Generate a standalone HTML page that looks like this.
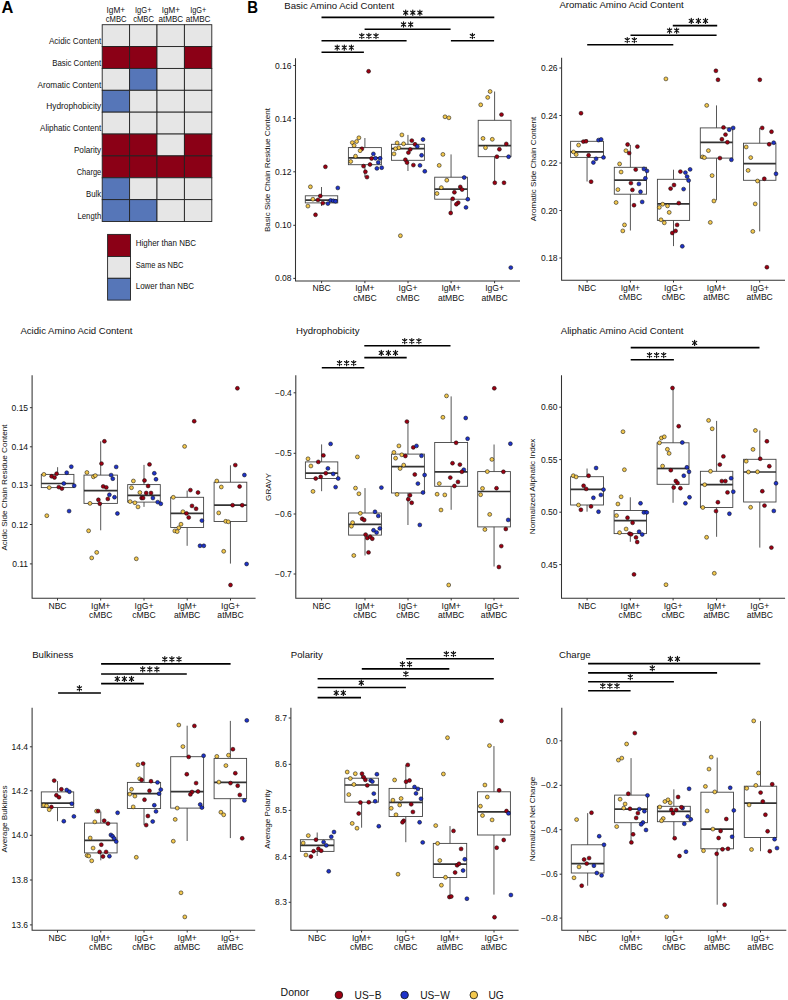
<!DOCTYPE html><html><head><meta charset="utf-8"><style>html,body{margin:0;padding:0;background:#fff;}svg{display:block}text{font-family:"Liberation Sans",sans-serif;fill:#111;stroke:none}</style></head><body>
<svg width="788" height="1000" viewBox="0 0 788 1000">
<rect x="0" y="0" width="788" height="1000" fill="#fff"/>
<text x="1.6" y="12.75" style="font-size:16.4px;font-weight:bold;fill:#000">A</text>
<text transform="translate(247.2,13) scale(0.9,1)" x="0" y="0" style="font-size:16.6px;font-weight:bold;fill:#000">B</text>
<rect x="102.2" y="24.7" width="27.4" height="21.87" fill="#e6e6e6" stroke="#222" stroke-width="0.9"/>
<rect x="129.6" y="24.7" width="27.4" height="21.87" fill="#e6e6e6" stroke="#222" stroke-width="0.9"/>
<rect x="157" y="24.7" width="27.4" height="21.87" fill="#e6e6e6" stroke="#222" stroke-width="0.9"/>
<rect x="184.4" y="24.7" width="27.4" height="21.87" fill="#e6e6e6" stroke="#222" stroke-width="0.9"/>
<rect x="102.2" y="46.57" width="27.4" height="21.87" fill="#8b0016" stroke="#222" stroke-width="0.9"/>
<rect x="129.6" y="46.57" width="27.4" height="21.87" fill="#8b0016" stroke="#222" stroke-width="0.9"/>
<rect x="157" y="46.57" width="27.4" height="21.87" fill="#e6e6e6" stroke="#222" stroke-width="0.9"/>
<rect x="184.4" y="46.57" width="27.4" height="21.87" fill="#8b0016" stroke="#222" stroke-width="0.9"/>
<rect x="102.2" y="68.43" width="27.4" height="21.87" fill="#e6e6e6" stroke="#222" stroke-width="0.9"/>
<rect x="129.6" y="68.43" width="27.4" height="21.87" fill="#5676b8" stroke="#222" stroke-width="0.9"/>
<rect x="157" y="68.43" width="27.4" height="21.87" fill="#e6e6e6" stroke="#222" stroke-width="0.9"/>
<rect x="184.4" y="68.43" width="27.4" height="21.87" fill="#e6e6e6" stroke="#222" stroke-width="0.9"/>
<rect x="102.2" y="90.3" width="27.4" height="21.87" fill="#5676b8" stroke="#222" stroke-width="0.9"/>
<rect x="129.6" y="90.3" width="27.4" height="21.87" fill="#e6e6e6" stroke="#222" stroke-width="0.9"/>
<rect x="157" y="90.3" width="27.4" height="21.87" fill="#e6e6e6" stroke="#222" stroke-width="0.9"/>
<rect x="184.4" y="90.3" width="27.4" height="21.87" fill="#e6e6e6" stroke="#222" stroke-width="0.9"/>
<rect x="102.2" y="112.17" width="27.4" height="21.87" fill="#e6e6e6" stroke="#222" stroke-width="0.9"/>
<rect x="129.6" y="112.17" width="27.4" height="21.87" fill="#e6e6e6" stroke="#222" stroke-width="0.9"/>
<rect x="157" y="112.17" width="27.4" height="21.87" fill="#e6e6e6" stroke="#222" stroke-width="0.9"/>
<rect x="184.4" y="112.17" width="27.4" height="21.87" fill="#e6e6e6" stroke="#222" stroke-width="0.9"/>
<rect x="102.2" y="134.03" width="27.4" height="21.87" fill="#8b0016" stroke="#222" stroke-width="0.9"/>
<rect x="129.6" y="134.03" width="27.4" height="21.87" fill="#8b0016" stroke="#222" stroke-width="0.9"/>
<rect x="157" y="134.03" width="27.4" height="21.87" fill="#e6e6e6" stroke="#222" stroke-width="0.9"/>
<rect x="184.4" y="134.03" width="27.4" height="21.87" fill="#8b0016" stroke="#222" stroke-width="0.9"/>
<rect x="102.2" y="155.9" width="27.4" height="21.87" fill="#8b0016" stroke="#222" stroke-width="0.9"/>
<rect x="129.6" y="155.9" width="27.4" height="21.87" fill="#8b0016" stroke="#222" stroke-width="0.9"/>
<rect x="157" y="155.9" width="27.4" height="21.87" fill="#8b0016" stroke="#222" stroke-width="0.9"/>
<rect x="184.4" y="155.9" width="27.4" height="21.87" fill="#8b0016" stroke="#222" stroke-width="0.9"/>
<rect x="102.2" y="177.77" width="27.4" height="21.87" fill="#5676b8" stroke="#222" stroke-width="0.9"/>
<rect x="129.6" y="177.77" width="27.4" height="21.87" fill="#e6e6e6" stroke="#222" stroke-width="0.9"/>
<rect x="157" y="177.77" width="27.4" height="21.87" fill="#e6e6e6" stroke="#222" stroke-width="0.9"/>
<rect x="184.4" y="177.77" width="27.4" height="21.87" fill="#e6e6e6" stroke="#222" stroke-width="0.9"/>
<rect x="102.2" y="199.63" width="27.4" height="21.87" fill="#5676b8" stroke="#222" stroke-width="0.9"/>
<rect x="129.6" y="199.63" width="27.4" height="21.87" fill="#5676b8" stroke="#222" stroke-width="0.9"/>
<rect x="157" y="199.63" width="27.4" height="21.87" fill="#e6e6e6" stroke="#222" stroke-width="0.9"/>
<rect x="184.4" y="199.63" width="27.4" height="21.87" fill="#e6e6e6" stroke="#222" stroke-width="0.9"/>
<text x="101.2" y="44.4" text-anchor="end" textLength="52.3" lengthAdjust="spacingAndGlyphs" style="font-size:8.8px;fill:#111">Acidic Content</text>
<text x="101.2" y="65.6" text-anchor="end" textLength="49" lengthAdjust="spacingAndGlyphs" style="font-size:8.8px;fill:#111">Basic Content</text>
<text x="101.2" y="87.7" text-anchor="end" textLength="63.7" lengthAdjust="spacingAndGlyphs" style="font-size:8.8px;fill:#111">Aromatic Content</text>
<text x="101.2" y="109.3" text-anchor="end" textLength="54.9" lengthAdjust="spacingAndGlyphs" style="font-size:8.8px;fill:#111">Hydrophobicity</text>
<text x="101.2" y="131.2" text-anchor="end" textLength="61.2" lengthAdjust="spacingAndGlyphs" style="font-size:8.8px;fill:#111">Aliphatic Content</text>
<text x="101.2" y="153.2" text-anchor="end" textLength="27.3" lengthAdjust="spacingAndGlyphs" style="font-size:8.8px;fill:#111">Polarity</text>
<text x="101.2" y="175" text-anchor="end" textLength="24.5" lengthAdjust="spacingAndGlyphs" style="font-size:8.8px;fill:#111">Charge</text>
<text x="101.2" y="197" text-anchor="end" textLength="15.2" lengthAdjust="spacingAndGlyphs" style="font-size:8.8px;fill:#111">Bulk</text>
<text x="101.2" y="219" text-anchor="end" textLength="23.7" lengthAdjust="spacingAndGlyphs" style="font-size:8.8px;fill:#111">Length</text>
<text x="106.5" y="12.9" textLength="18.6" lengthAdjust="spacingAndGlyphs" style="font-size:8.8px;fill:#111">IgM+</text>
<text x="105.7" y="22.3" textLength="20.9" lengthAdjust="spacingAndGlyphs" style="font-size:8.8px;fill:#111">cMBC</text>
<text x="135" y="12.9" textLength="16.6" lengthAdjust="spacingAndGlyphs" style="font-size:8.8px;fill:#111">IgG+</text>
<text x="133.2" y="22.3" textLength="20.8" lengthAdjust="spacingAndGlyphs" style="font-size:8.8px;fill:#111">cMBC</text>
<text x="161.8" y="12.9" textLength="18.2" lengthAdjust="spacingAndGlyphs" style="font-size:8.8px;fill:#111">IgM+</text>
<text x="158.5" y="22.3" textLength="24.7" lengthAdjust="spacingAndGlyphs" style="font-size:8.8px;fill:#111">atMBC</text>
<text x="190.2" y="12.9" textLength="16.1" lengthAdjust="spacingAndGlyphs" style="font-size:8.8px;fill:#111">IgG+</text>
<text x="185.7" y="22.3" textLength="24.8" lengthAdjust="spacingAndGlyphs" style="font-size:8.8px;fill:#111">atMBC</text>
<rect x="107.6" y="234.4" width="22.9" height="22.1" fill="#8b0016" stroke="#222" stroke-width="0.9"/>
<rect x="107.6" y="256.5" width="22.9" height="21.8" fill="#e6e6e6" stroke="#222" stroke-width="0.9"/>
<rect x="107.6" y="278.3" width="22.9" height="21.8" fill="#5676b8" stroke="#222" stroke-width="0.9"/>
<text x="135.8" y="245.6" textLength="60.2" lengthAdjust="spacingAndGlyphs" style="font-size:8.8px;fill:#111">Higher than NBC</text>
<text x="135.8" y="267.6" textLength="47.5" lengthAdjust="spacingAndGlyphs" style="font-size:8.8px;fill:#111">Same as NBC</text>
<text x="135.8" y="289.3" textLength="58.2" lengthAdjust="spacingAndGlyphs" style="font-size:8.8px;fill:#111">Lower than NBC</text>
<text x="284.3" y="8.8" style="font-size:9.6px;fill:#111">Basic Amino Acid Content</text>
<path d="M295.5 58.2V281H520" fill="none" stroke="#333" stroke-width="1.05"/>
<path d="M293.3 278.4H295.5" stroke="#333" stroke-width="1"/>
<text x="291.5" y="281.45" text-anchor="end" style="font-size:8.5px;fill:#111">0.08</text>
<path d="M293.3 225.3H295.5" stroke="#333" stroke-width="1"/>
<text x="291.5" y="228.35" text-anchor="end" style="font-size:8.5px;fill:#111">0.10</text>
<path d="M293.3 171.8H295.5" stroke="#333" stroke-width="1"/>
<text x="291.5" y="174.85" text-anchor="end" style="font-size:8.5px;fill:#111">0.12</text>
<path d="M293.3 118.5H295.5" stroke="#333" stroke-width="1"/>
<text x="291.5" y="121.55" text-anchor="end" style="font-size:8.5px;fill:#111">0.14</text>
<path d="M293.3 65.5H295.5" stroke="#333" stroke-width="1"/>
<text x="291.5" y="68.55" text-anchor="end" style="font-size:8.5px;fill:#111">0.16</text>
<path d="M321.6 281V283.2" stroke="#333" stroke-width="1"/>
<text x="321.6" y="291.3" text-anchor="middle" style="font-size:8.6px;fill:#111">NBC</text>
<path d="M364.9 281V283.2" stroke="#333" stroke-width="1"/>
<text x="364.9" y="291.3" text-anchor="middle" style="font-size:8.6px;fill:#111">IgM+</text>
<text x="364.9" y="300.8" text-anchor="middle" style="font-size:8.6px;fill:#111">cMBC</text>
<path d="M408 281V283.2" stroke="#333" stroke-width="1"/>
<text x="408" y="291.3" text-anchor="middle" style="font-size:8.6px;fill:#111">IgG+</text>
<text x="408" y="300.8" text-anchor="middle" style="font-size:8.6px;fill:#111">cMBC</text>
<path d="M451.1 281V283.2" stroke="#333" stroke-width="1"/>
<text x="451.1" y="291.3" text-anchor="middle" style="font-size:8.6px;fill:#111">IgM+</text>
<text x="451.1" y="300.8" text-anchor="middle" style="font-size:8.6px;fill:#111">atMBC</text>
<path d="M494.6 281V283.2" stroke="#333" stroke-width="1"/>
<text x="494.6" y="291.3" text-anchor="middle" style="font-size:8.6px;fill:#111">IgG+</text>
<text x="494.6" y="300.8" text-anchor="middle" style="font-size:8.6px;fill:#111">atMBC</text>
<text x="269.8" y="170" text-anchor="middle" transform="rotate(-90 269.8 170)" style="font-size:8.1px;fill:#111">Basic Side Chain Residue Content</text>
<path d="M321.5 187V195.8M321.5 202.9V206" stroke="#444" stroke-width="0.9"/>
<rect x="305.3" y="195.8" width="32.4" height="7.1" fill="none" stroke="#444" stroke-width="0.9"/>
<path d="M305.3 200.2H337.7" stroke="#333" stroke-width="1.7"/>
<path d="M364.9 138V147.6M364.9 164.7V177.1" stroke="#444" stroke-width="0.9"/>
<rect x="348.4" y="147.6" width="33" height="17.1" fill="none" stroke="#444" stroke-width="0.9"/>
<path d="M348.4 157.9H381.4" stroke="#333" stroke-width="1.7"/>
<path d="M407.95 134.9V144.3M407.95 160.3V171" stroke="#444" stroke-width="0.9"/>
<rect x="391.5" y="144.3" width="32.9" height="16" fill="none" stroke="#444" stroke-width="0.9"/>
<path d="M391.5 148.7H424.4" stroke="#333" stroke-width="1.7"/>
<path d="M451.05 154.4V177.2M451.05 199.2V213" stroke="#444" stroke-width="0.9"/>
<rect x="434.7" y="177.2" width="32.7" height="22" fill="none" stroke="#444" stroke-width="0.9"/>
<path d="M434.7 189.2H467.4" stroke="#333" stroke-width="1.7"/>
<path d="M494.6 91.5V120.3M494.6 156.7V182.8" stroke="#444" stroke-width="0.9"/>
<rect x="478.2" y="120.3" width="32.8" height="36.4" fill="none" stroke="#444" stroke-width="0.9"/>
<path d="M478.2 145.7H511" stroke="#333" stroke-width="1.7"/>
<circle cx="310.4" cy="186.8" r="1.95" fill="#f3c84e" stroke="#111" stroke-width="0.55"/>
<circle cx="325.4" cy="166.8" r="1.95" fill="#9c0012" stroke="#111" stroke-width="0.55"/>
<circle cx="337.8" cy="187.9" r="1.95" fill="#1f33c8" stroke="#111" stroke-width="0.55"/>
<circle cx="320.3" cy="196" r="1.95" fill="#9c0012" stroke="#111" stroke-width="0.55"/>
<circle cx="312.9" cy="199.2" r="1.95" fill="#f3c84e" stroke="#111" stroke-width="0.55"/>
<circle cx="318" cy="199.9" r="1.95" fill="#9c0012" stroke="#111" stroke-width="0.55"/>
<circle cx="322.8" cy="203.1" r="1.95" fill="#9c0012" stroke="#111" stroke-width="0.55"/>
<circle cx="327.9" cy="203.6" r="1.95" fill="#1f33c8" stroke="#111" stroke-width="0.55"/>
<circle cx="330.6" cy="200.4" r="1.95" fill="#1f33c8" stroke="#111" stroke-width="0.55"/>
<circle cx="333.2" cy="200.8" r="1.95" fill="#1f33c8" stroke="#111" stroke-width="0.55"/>
<circle cx="335.5" cy="201.3" r="1.95" fill="#1f33c8" stroke="#111" stroke-width="0.55"/>
<circle cx="307.9" cy="206.1" r="1.95" fill="#f3c84e" stroke="#111" stroke-width="0.55"/>
<circle cx="315.5" cy="214.8" r="1.95" fill="#9c0012" stroke="#111" stroke-width="0.55"/>
<circle cx="368.6" cy="71.3" r="1.95" fill="#9c0012" stroke="#111" stroke-width="0.55"/>
<circle cx="358.9" cy="137.8" r="1.95" fill="#f3c84e" stroke="#111" stroke-width="0.55"/>
<circle cx="356.6" cy="141.5" r="1.95" fill="#f3c84e" stroke="#111" stroke-width="0.55"/>
<circle cx="352.3" cy="142.6" r="1.95" fill="#f3c84e" stroke="#111" stroke-width="0.55"/>
<circle cx="354.1" cy="145.6" r="1.95" fill="#f3c84e" stroke="#111" stroke-width="0.55"/>
<circle cx="361.9" cy="148.8" r="1.95" fill="#9c0012" stroke="#111" stroke-width="0.55"/>
<circle cx="360.1" cy="150.7" r="1.95" fill="#f3c84e" stroke="#111" stroke-width="0.55"/>
<circle cx="355.5" cy="156.2" r="1.95" fill="#f3c84e" stroke="#111" stroke-width="0.55"/>
<circle cx="350.7" cy="161.5" r="1.95" fill="#f3c84e" stroke="#111" stroke-width="0.55"/>
<circle cx="373.4" cy="153.9" r="1.95" fill="#1f33c8" stroke="#111" stroke-width="0.55"/>
<circle cx="371.6" cy="158.5" r="1.95" fill="#9c0012" stroke="#111" stroke-width="0.55"/>
<circle cx="375.5" cy="158.3" r="1.95" fill="#1f33c8" stroke="#111" stroke-width="0.55"/>
<circle cx="380.1" cy="158.3" r="1.95" fill="#1f33c8" stroke="#111" stroke-width="0.55"/>
<circle cx="378.3" cy="162.4" r="1.95" fill="#1f33c8" stroke="#111" stroke-width="0.55"/>
<circle cx="370" cy="164.5" r="1.95" fill="#9c0012" stroke="#111" stroke-width="0.55"/>
<circle cx="363.5" cy="166.1" r="1.95" fill="#9c0012" stroke="#111" stroke-width="0.55"/>
<circle cx="376.9" cy="168.4" r="1.95" fill="#1f33c8" stroke="#111" stroke-width="0.55"/>
<circle cx="381.7" cy="167.7" r="1.95" fill="#1f33c8" stroke="#111" stroke-width="0.55"/>
<circle cx="365.4" cy="171.8" r="1.95" fill="#9c0012" stroke="#111" stroke-width="0.55"/>
<circle cx="367" cy="177.1" r="1.95" fill="#9c0012" stroke="#111" stroke-width="0.55"/>
<circle cx="401.9" cy="134.9" r="1.95" fill="#f3c84e" stroke="#111" stroke-width="0.55"/>
<circle cx="397.1" cy="142.9" r="1.95" fill="#f3c84e" stroke="#111" stroke-width="0.55"/>
<circle cx="403.6" cy="143.8" r="1.95" fill="#f3c84e" stroke="#111" stroke-width="0.55"/>
<circle cx="398.8" cy="147.7" r="1.95" fill="#f3c84e" stroke="#111" stroke-width="0.55"/>
<circle cx="395.5" cy="148.7" r="1.95" fill="#f3c84e" stroke="#111" stroke-width="0.55"/>
<circle cx="394" cy="153.9" r="1.95" fill="#f3c84e" stroke="#111" stroke-width="0.55"/>
<circle cx="411.8" cy="140.6" r="1.95" fill="#9c0012" stroke="#111" stroke-width="0.55"/>
<circle cx="415" cy="144.3" r="1.95" fill="#9c0012" stroke="#111" stroke-width="0.55"/>
<circle cx="423" cy="139.5" r="1.95" fill="#1f33c8" stroke="#111" stroke-width="0.55"/>
<circle cx="417.3" cy="146.4" r="1.95" fill="#1f33c8" stroke="#111" stroke-width="0.55"/>
<circle cx="410.2" cy="149.4" r="1.95" fill="#9c0012" stroke="#111" stroke-width="0.55"/>
<circle cx="408.4" cy="152.6" r="1.95" fill="#9c0012" stroke="#111" stroke-width="0.55"/>
<circle cx="421.6" cy="155.3" r="1.95" fill="#1f33c8" stroke="#111" stroke-width="0.55"/>
<circle cx="405.4" cy="159.7" r="1.95" fill="#9c0012" stroke="#111" stroke-width="0.55"/>
<circle cx="407" cy="162.6" r="1.95" fill="#9c0012" stroke="#111" stroke-width="0.55"/>
<circle cx="413.4" cy="165.1" r="1.95" fill="#9c0012" stroke="#111" stroke-width="0.55"/>
<circle cx="420" cy="165.4" r="1.95" fill="#1f33c8" stroke="#111" stroke-width="0.55"/>
<circle cx="424.8" cy="171.3" r="1.95" fill="#1f33c8" stroke="#111" stroke-width="0.55"/>
<circle cx="400.4" cy="235.7" r="1.95" fill="#f3c84e" stroke="#111" stroke-width="0.55"/>
<circle cx="445" cy="116.8" r="1.95" fill="#f3c84e" stroke="#111" stroke-width="0.55"/>
<circle cx="448.9" cy="117.8" r="1.95" fill="#f3c84e" stroke="#111" stroke-width="0.55"/>
<circle cx="442.9" cy="154.4" r="1.95" fill="#f3c84e" stroke="#111" stroke-width="0.55"/>
<circle cx="439.2" cy="165.4" r="1.95" fill="#f3c84e" stroke="#111" stroke-width="0.55"/>
<circle cx="446.8" cy="180.2" r="1.95" fill="#f3c84e" stroke="#111" stroke-width="0.55"/>
<circle cx="464.2" cy="177.5" r="1.95" fill="#1f33c8" stroke="#111" stroke-width="0.55"/>
<circle cx="441.3" cy="187.6" r="1.95" fill="#f3c84e" stroke="#111" stroke-width="0.55"/>
<circle cx="460.3" cy="186.9" r="1.95" fill="#9c0012" stroke="#111" stroke-width="0.55"/>
<circle cx="462.1" cy="189.6" r="1.95" fill="#9c0012" stroke="#111" stroke-width="0.55"/>
<circle cx="454.4" cy="192.3" r="1.95" fill="#9c0012" stroke="#111" stroke-width="0.55"/>
<circle cx="437" cy="193.5" r="1.95" fill="#f3c84e" stroke="#111" stroke-width="0.55"/>
<circle cx="452.7" cy="198.8" r="1.95" fill="#9c0012" stroke="#111" stroke-width="0.55"/>
<circle cx="467.8" cy="199.2" r="1.95" fill="#1f33c8" stroke="#111" stroke-width="0.55"/>
<circle cx="458.2" cy="202.7" r="1.95" fill="#9c0012" stroke="#111" stroke-width="0.55"/>
<circle cx="456.4" cy="204.2" r="1.95" fill="#9c0012" stroke="#111" stroke-width="0.55"/>
<circle cx="466" cy="207.4" r="1.95" fill="#1f33c8" stroke="#111" stroke-width="0.55"/>
<circle cx="450.7" cy="213" r="1.95" fill="#9c0012" stroke="#111" stroke-width="0.55"/>
<circle cx="501.5" cy="114.6" r="1.95" fill="#9c0012" stroke="#111" stroke-width="0.55"/>
<circle cx="483" cy="138.4" r="1.95" fill="#f3c84e" stroke="#111" stroke-width="0.55"/>
<circle cx="492.3" cy="139.3" r="1.95" fill="#f3c84e" stroke="#111" stroke-width="0.55"/>
<circle cx="506.3" cy="143.9" r="1.95" fill="#9c0012" stroke="#111" stroke-width="0.55"/>
<circle cx="485.5" cy="147.7" r="1.95" fill="#f3c84e" stroke="#111" stroke-width="0.55"/>
<circle cx="499.4" cy="149.3" r="1.95" fill="#9c0012" stroke="#111" stroke-width="0.55"/>
<circle cx="496.9" cy="156.7" r="1.95" fill="#9c0012" stroke="#111" stroke-width="0.55"/>
<circle cx="508.6" cy="156.7" r="1.95" fill="#1f33c8" stroke="#111" stroke-width="0.55"/>
<circle cx="494.8" cy="182.8" r="1.95" fill="#9c0012" stroke="#111" stroke-width="0.55"/>
<circle cx="504" cy="182.8" r="1.95" fill="#9c0012" stroke="#111" stroke-width="0.55"/>
<circle cx="490.1" cy="91.5" r="1.95" fill="#f3c84e" stroke="#111" stroke-width="0.55"/>
<circle cx="487.7" cy="97.4" r="1.95" fill="#f3c84e" stroke="#111" stroke-width="0.55"/>
<circle cx="480.7" cy="104.8" r="1.95" fill="#f3c84e" stroke="#111" stroke-width="0.55"/>
<circle cx="510.8" cy="267.6" r="1.95" fill="#1f33c8" stroke="#111" stroke-width="0.55"/>
<path d="M321.5 52.3H363.9" stroke="#000" stroke-width="1.6"/>
<path d="M337.2 45L337.2 50.2M335.1 46.07L339.3 49.13M339.3 46.07L335.1 49.13M344.3 45L344.3 50.2M342.2 46.07L346.4 49.13M346.4 46.07L342.2 49.13M351.4 45L351.4 50.2M349.3 46.07L353.5 49.13M353.5 46.07L349.3 49.13" stroke="#111" stroke-width="1.2" stroke-linecap="round"/>
<path d="M321.5 40.7H406.6" stroke="#000" stroke-width="1.6"/>
<path d="M361.8 33.4L361.8 38.6M359.7 34.47L363.9 37.53M363.9 34.47L359.7 37.53M368.9 33.4L368.9 38.6M366.8 34.47L371 37.53M371 34.47L366.8 37.53M376 33.4L376 38.6M373.9 34.47L378.1 37.53M378.1 34.47L373.9 37.53" stroke="#111" stroke-width="1.2" stroke-linecap="round"/>
<path d="M450.9 40.7H494.1" stroke="#000" stroke-width="1.6"/>
<path d="M472.4 33.4L472.4 38.6M470.3 34.47L474.5 37.53M474.5 34.47L470.3 37.53" stroke="#111" stroke-width="1.2" stroke-linecap="round"/>
<path d="M364.6 29.2H450.6" stroke="#000" stroke-width="1.6"/>
<path d="M403.55 21.9L403.55 27.1M401.45 22.97L405.65 26.03M405.65 22.97L401.45 26.03M410.65 21.9L410.65 27.1M408.55 22.97L412.75 26.03M412.75 22.97L408.55 26.03" stroke="#111" stroke-width="1.2" stroke-linecap="round"/>
<path d="M321.5 17.4H494.3" stroke="#000" stroke-width="1.6"/>
<path d="M405.7 10.1L405.7 15.3M403.6 11.17L407.8 14.23M407.8 11.17L403.6 14.23M412.8 10.1L412.8 15.3M410.7 11.17L414.9 14.23M414.9 11.17L410.7 14.23M419.9 10.1L419.9 15.3M417.8 11.17L422 14.23M422 11.17L417.8 14.23" stroke="#111" stroke-width="1.2" stroke-linecap="round"/>
<text x="559.4" y="8.4" style="font-size:9.6px;fill:#111">Aromatic Amino Acid Content</text>
<path d="M561.6 57.7V280.3H785" fill="none" stroke="#333" stroke-width="1.05"/>
<path d="M559.4 258H561.6" stroke="#333" stroke-width="1"/>
<text x="557.6" y="261.05" text-anchor="end" style="font-size:8.5px;fill:#111">0.18</text>
<path d="M559.4 210.5H561.6" stroke="#333" stroke-width="1"/>
<text x="557.6" y="213.55" text-anchor="end" style="font-size:8.5px;fill:#111">0.20</text>
<path d="M559.4 163H561.6" stroke="#333" stroke-width="1"/>
<text x="557.6" y="166.05" text-anchor="end" style="font-size:8.5px;fill:#111">0.22</text>
<path d="M559.4 115.5H561.6" stroke="#333" stroke-width="1"/>
<text x="557.6" y="118.55" text-anchor="end" style="font-size:8.5px;fill:#111">0.24</text>
<path d="M559.4 68H561.6" stroke="#333" stroke-width="1"/>
<text x="557.6" y="71.05" text-anchor="end" style="font-size:8.5px;fill:#111">0.26</text>
<path d="M587.1 280.3V282.5" stroke="#333" stroke-width="1"/>
<text x="587.1" y="290.6" text-anchor="middle" style="font-size:8.6px;fill:#111">NBC</text>
<path d="M630.4 280.3V282.5" stroke="#333" stroke-width="1"/>
<text x="630.4" y="290.6" text-anchor="middle" style="font-size:8.6px;fill:#111">IgM+</text>
<text x="630.4" y="300.1" text-anchor="middle" style="font-size:8.6px;fill:#111">cMBC</text>
<path d="M673.5 280.3V282.5" stroke="#333" stroke-width="1"/>
<text x="673.5" y="290.6" text-anchor="middle" style="font-size:8.6px;fill:#111">IgG+</text>
<text x="673.5" y="300.1" text-anchor="middle" style="font-size:8.6px;fill:#111">cMBC</text>
<path d="M716.5 280.3V282.5" stroke="#333" stroke-width="1"/>
<text x="716.5" y="290.6" text-anchor="middle" style="font-size:8.6px;fill:#111">IgM+</text>
<text x="716.5" y="300.1" text-anchor="middle" style="font-size:8.6px;fill:#111">atMBC</text>
<path d="M759.7 280.3V282.5" stroke="#333" stroke-width="1"/>
<text x="759.7" y="290.6" text-anchor="middle" style="font-size:8.6px;fill:#111">IgG+</text>
<text x="759.7" y="300.1" text-anchor="middle" style="font-size:8.6px;fill:#111">atMBC</text>
<text x="535.5" y="169" text-anchor="middle" transform="rotate(-90 535.5 169)" style="font-size:8.1px;fill:#111">Aromatic Side Chain Content</text>
<path d="M587.05 139.4V141.3M587.05 157.4V181.5" stroke="#444" stroke-width="0.9"/>
<rect x="570.6" y="141.3" width="32.9" height="16.1" fill="none" stroke="#444" stroke-width="0.9"/>
<path d="M570.6 151.9H603.5" stroke="#333" stroke-width="1.7"/>
<path d="M630.4 144.9V167.3M630.4 194.2V230.5" stroke="#444" stroke-width="0.9"/>
<rect x="614.3" y="167.3" width="32.2" height="26.9" fill="none" stroke="#444" stroke-width="0.9"/>
<path d="M614.3 180.2H646.5" stroke="#333" stroke-width="1.7"/>
<path d="M673.5 169.7V179.3M673.5 220.4V246.1" stroke="#444" stroke-width="0.9"/>
<rect x="657.4" y="179.3" width="32.2" height="41.1" fill="none" stroke="#444" stroke-width="0.9"/>
<path d="M657.4 203.8H689.6" stroke="#333" stroke-width="1.7"/>
<path d="M716.5 105.4V127.9M716.5 158.1V200.3" stroke="#444" stroke-width="0.9"/>
<rect x="700.3" y="127.9" width="32.4" height="30.2" fill="none" stroke="#444" stroke-width="0.9"/>
<path d="M700.3 142.3H732.7" stroke="#333" stroke-width="1.7"/>
<path d="M759.7 127.9V143.2M759.7 180.3V231.4" stroke="#444" stroke-width="0.9"/>
<rect x="743.5" y="143.2" width="32.4" height="37.1" fill="none" stroke="#444" stroke-width="0.9"/>
<path d="M743.5 163.7H775.9" stroke="#333" stroke-width="1.7"/>
<circle cx="581" cy="113.2" r="1.95" fill="#9c0012" stroke="#111" stroke-width="0.55"/>
<circle cx="583.4" cy="141.6" r="1.95" fill="#9c0012" stroke="#111" stroke-width="0.55"/>
<circle cx="586" cy="141.3" r="1.95" fill="#9c0012" stroke="#111" stroke-width="0.55"/>
<circle cx="598.5" cy="140.1" r="1.95" fill="#1f33c8" stroke="#111" stroke-width="0.55"/>
<circle cx="601.1" cy="139.4" r="1.95" fill="#1f33c8" stroke="#111" stroke-width="0.55"/>
<circle cx="578.6" cy="145.1" r="1.95" fill="#f3c84e" stroke="#111" stroke-width="0.55"/>
<circle cx="573.5" cy="151.9" r="1.95" fill="#f3c84e" stroke="#111" stroke-width="0.55"/>
<circle cx="576.2" cy="154.5" r="1.95" fill="#f3c84e" stroke="#111" stroke-width="0.55"/>
<circle cx="588.6" cy="155.3" r="1.95" fill="#9c0012" stroke="#111" stroke-width="0.55"/>
<circle cx="603.5" cy="157.4" r="1.95" fill="#1f33c8" stroke="#111" stroke-width="0.55"/>
<circle cx="596.1" cy="158.8" r="1.95" fill="#1f33c8" stroke="#111" stroke-width="0.55"/>
<circle cx="593.4" cy="162.5" r="1.95" fill="#1f33c8" stroke="#111" stroke-width="0.55"/>
<circle cx="591.1" cy="181.7" r="1.95" fill="#9c0012" stroke="#111" stroke-width="0.55"/>
<circle cx="627.6" cy="144.5" r="1.95" fill="#9c0012" stroke="#111" stroke-width="0.55"/>
<circle cx="637.4" cy="146.6" r="1.95" fill="#9c0012" stroke="#111" stroke-width="0.55"/>
<circle cx="625.9" cy="150.7" r="1.95" fill="#f3c84e" stroke="#111" stroke-width="0.55"/>
<circle cx="629.2" cy="153.1" r="1.95" fill="#9c0012" stroke="#111" stroke-width="0.55"/>
<circle cx="619.6" cy="163.9" r="1.95" fill="#f3c84e" stroke="#111" stroke-width="0.55"/>
<circle cx="621.1" cy="172" r="1.95" fill="#f3c84e" stroke="#111" stroke-width="0.55"/>
<circle cx="635.7" cy="169.6" r="1.95" fill="#9c0012" stroke="#111" stroke-width="0.55"/>
<circle cx="643.9" cy="168.9" r="1.95" fill="#1f33c8" stroke="#111" stroke-width="0.55"/>
<circle cx="647" cy="170.9" r="1.95" fill="#1f33c8" stroke="#111" stroke-width="0.55"/>
<circle cx="645.4" cy="178.3" r="1.95" fill="#1f33c8" stroke="#111" stroke-width="0.55"/>
<circle cx="630.9" cy="183.1" r="1.95" fill="#9c0012" stroke="#111" stroke-width="0.55"/>
<circle cx="638.9" cy="183.9" r="1.95" fill="#1f33c8" stroke="#111" stroke-width="0.55"/>
<circle cx="617.9" cy="189.6" r="1.95" fill="#f3c84e" stroke="#111" stroke-width="0.55"/>
<circle cx="632.4" cy="189.9" r="1.95" fill="#9c0012" stroke="#111" stroke-width="0.55"/>
<circle cx="640.5" cy="191.8" r="1.95" fill="#1f33c8" stroke="#111" stroke-width="0.55"/>
<circle cx="616.1" cy="202.5" r="1.95" fill="#f3c84e" stroke="#111" stroke-width="0.55"/>
<circle cx="642.2" cy="201.9" r="1.95" fill="#1f33c8" stroke="#111" stroke-width="0.55"/>
<circle cx="634" cy="205.2" r="1.95" fill="#9c0012" stroke="#111" stroke-width="0.55"/>
<circle cx="624.5" cy="224.9" r="1.95" fill="#f3c84e" stroke="#111" stroke-width="0.55"/>
<circle cx="622.8" cy="230.9" r="1.95" fill="#f3c84e" stroke="#111" stroke-width="0.55"/>
<circle cx="680.4" cy="171.6" r="1.95" fill="#9c0012" stroke="#111" stroke-width="0.55"/>
<circle cx="685.4" cy="172.6" r="1.95" fill="#1f33c8" stroke="#111" stroke-width="0.55"/>
<circle cx="690.1" cy="169.4" r="1.95" fill="#1f33c8" stroke="#111" stroke-width="0.55"/>
<circle cx="687.1" cy="176.6" r="1.95" fill="#1f33c8" stroke="#111" stroke-width="0.55"/>
<circle cx="688.6" cy="180.5" r="1.95" fill="#1f33c8" stroke="#111" stroke-width="0.55"/>
<circle cx="674" cy="185" r="1.95" fill="#9c0012" stroke="#111" stroke-width="0.55"/>
<circle cx="670.6" cy="188.6" r="1.95" fill="#9c0012" stroke="#111" stroke-width="0.55"/>
<circle cx="683.6" cy="189.1" r="1.95" fill="#1f33c8" stroke="#111" stroke-width="0.55"/>
<circle cx="678.8" cy="203.1" r="1.95" fill="#9c0012" stroke="#111" stroke-width="0.55"/>
<circle cx="662.7" cy="204.2" r="1.95" fill="#f3c84e" stroke="#111" stroke-width="0.55"/>
<circle cx="659.3" cy="207.4" r="1.95" fill="#f3c84e" stroke="#111" stroke-width="0.55"/>
<circle cx="667.5" cy="205.9" r="1.95" fill="#f3c84e" stroke="#111" stroke-width="0.55"/>
<circle cx="669.2" cy="212.4" r="1.95" fill="#f3c84e" stroke="#111" stroke-width="0.55"/>
<circle cx="661" cy="219.8" r="1.95" fill="#f3c84e" stroke="#111" stroke-width="0.55"/>
<circle cx="664.3" cy="222.8" r="1.95" fill="#f3c84e" stroke="#111" stroke-width="0.55"/>
<circle cx="677.1" cy="224.9" r="1.95" fill="#9c0012" stroke="#111" stroke-width="0.55"/>
<circle cx="675.6" cy="230.9" r="1.95" fill="#9c0012" stroke="#111" stroke-width="0.55"/>
<circle cx="672.3" cy="233" r="1.95" fill="#9c0012" stroke="#111" stroke-width="0.55"/>
<circle cx="682.3" cy="246.3" r="1.95" fill="#1f33c8" stroke="#111" stroke-width="0.55"/>
<circle cx="665.9" cy="78.9" r="1.95" fill="#f3c84e" stroke="#111" stroke-width="0.55"/>
<circle cx="706.7" cy="105.4" r="1.95" fill="#f3c84e" stroke="#111" stroke-width="0.55"/>
<circle cx="723.5" cy="127.4" r="1.95" fill="#9c0012" stroke="#111" stroke-width="0.55"/>
<circle cx="729.2" cy="129.7" r="1.95" fill="#1f33c8" stroke="#111" stroke-width="0.55"/>
<circle cx="733.2" cy="127.9" r="1.95" fill="#1f33c8" stroke="#111" stroke-width="0.55"/>
<circle cx="725.5" cy="134.6" r="1.95" fill="#9c0012" stroke="#111" stroke-width="0.55"/>
<circle cx="721.9" cy="139.2" r="1.95" fill="#9c0012" stroke="#111" stroke-width="0.55"/>
<circle cx="727.4" cy="142.3" r="1.95" fill="#9c0012" stroke="#111" stroke-width="0.55"/>
<circle cx="708.4" cy="150.6" r="1.95" fill="#f3c84e" stroke="#111" stroke-width="0.55"/>
<circle cx="702.6" cy="156.9" r="1.95" fill="#f3c84e" stroke="#111" stroke-width="0.55"/>
<circle cx="704.4" cy="157.6" r="1.95" fill="#f3c84e" stroke="#111" stroke-width="0.55"/>
<circle cx="719.9" cy="158.1" r="1.95" fill="#9c0012" stroke="#111" stroke-width="0.55"/>
<circle cx="731.4" cy="159.8" r="1.95" fill="#1f33c8" stroke="#111" stroke-width="0.55"/>
<circle cx="712.1" cy="175.6" r="1.95" fill="#f3c84e" stroke="#111" stroke-width="0.55"/>
<circle cx="713.9" cy="201" r="1.95" fill="#f3c84e" stroke="#111" stroke-width="0.55"/>
<circle cx="710.3" cy="222.4" r="1.95" fill="#f3c84e" stroke="#111" stroke-width="0.55"/>
<circle cx="715.9" cy="70.8" r="1.95" fill="#9c0012" stroke="#111" stroke-width="0.55"/>
<circle cx="718" cy="79.8" r="1.95" fill="#9c0012" stroke="#111" stroke-width="0.55"/>
<circle cx="762.2" cy="127.9" r="1.95" fill="#9c0012" stroke="#111" stroke-width="0.55"/>
<circle cx="771.5" cy="131.7" r="1.95" fill="#9c0012" stroke="#111" stroke-width="0.55"/>
<circle cx="769.2" cy="144.3" r="1.95" fill="#9c0012" stroke="#111" stroke-width="0.55"/>
<circle cx="773.7" cy="142.7" r="1.95" fill="#1f33c8" stroke="#111" stroke-width="0.55"/>
<circle cx="746.2" cy="147" r="1.95" fill="#f3c84e" stroke="#111" stroke-width="0.55"/>
<circle cx="750.7" cy="157.6" r="1.95" fill="#f3c84e" stroke="#111" stroke-width="0.55"/>
<circle cx="748.1" cy="170.4" r="1.95" fill="#f3c84e" stroke="#111" stroke-width="0.55"/>
<circle cx="776" cy="173.8" r="1.95" fill="#1f33c8" stroke="#111" stroke-width="0.55"/>
<circle cx="757.5" cy="181" r="1.95" fill="#f3c84e" stroke="#111" stroke-width="0.55"/>
<circle cx="764.3" cy="178.8" r="1.95" fill="#9c0012" stroke="#111" stroke-width="0.55"/>
<circle cx="755.2" cy="203.9" r="1.95" fill="#f3c84e" stroke="#111" stroke-width="0.55"/>
<circle cx="752.8" cy="231.4" r="1.95" fill="#f3c84e" stroke="#111" stroke-width="0.55"/>
<circle cx="766.9" cy="267.2" r="1.95" fill="#9c0012" stroke="#111" stroke-width="0.55"/>
<circle cx="759.8" cy="79.8" r="1.95" fill="#9c0012" stroke="#111" stroke-width="0.55"/>
<path d="M587.2 44.8H673.3" stroke="#000" stroke-width="1.6"/>
<path d="M627.25 37.5L627.25 42.7M625.15 38.57L629.35 41.63M629.35 38.57L625.15 41.63M634.35 37.5L634.35 42.7M632.25 38.57L636.45 41.63M636.45 38.57L632.25 41.63" stroke="#111" stroke-width="1.2" stroke-linecap="round"/>
<path d="M630.5 35.3H716.6" stroke="#000" stroke-width="1.6"/>
<path d="M669.55 28L669.55 33.2M667.45 29.07L671.65 32.13M671.65 29.07L667.45 32.13M676.65 28L676.65 33.2M674.55 29.07L678.75 32.13M678.75 29.07L674.55 32.13" stroke="#111" stroke-width="1.2" stroke-linecap="round"/>
<path d="M672.8 25.6H717.2" stroke="#000" stroke-width="1.6"/>
<path d="M691.3 18.3L691.3 23.5M689.2 19.37L693.4 22.43M693.4 19.37L689.2 22.43M698.4 18.3L698.4 23.5M696.3 19.37L700.5 22.43M700.5 19.37L696.3 22.43M705.5 18.3L705.5 23.5M703.4 19.37L707.6 22.43M707.6 19.37L703.4 22.43" stroke="#111" stroke-width="1.2" stroke-linecap="round"/>
<text x="20.4" y="334" style="font-size:9.6px;fill:#111">Acidic Amino Acid Content</text>
<path d="M32.1 375.3V598.3H255.6" fill="none" stroke="#333" stroke-width="1.05"/>
<path d="M29.9 563.9H32.1" stroke="#333" stroke-width="1"/>
<text x="28.1" y="566.95" text-anchor="end" style="font-size:8.5px;fill:#111">0.11</text>
<path d="M29.9 524.5H32.1" stroke="#333" stroke-width="1"/>
<text x="28.1" y="527.55" text-anchor="end" style="font-size:8.5px;fill:#111">0.12</text>
<path d="M29.9 485.3H32.1" stroke="#333" stroke-width="1"/>
<text x="28.1" y="488.35" text-anchor="end" style="font-size:8.5px;fill:#111">0.13</text>
<path d="M29.9 446.8H32.1" stroke="#333" stroke-width="1"/>
<text x="28.1" y="449.85" text-anchor="end" style="font-size:8.5px;fill:#111">0.14</text>
<path d="M29.9 407.7H32.1" stroke="#333" stroke-width="1"/>
<text x="28.1" y="410.75" text-anchor="end" style="font-size:8.5px;fill:#111">0.15</text>
<path d="M57.5 598.3V600.5" stroke="#333" stroke-width="1"/>
<text x="57.5" y="608.6" text-anchor="middle" style="font-size:8.6px;fill:#111">NBC</text>
<path d="M100.7 598.3V600.5" stroke="#333" stroke-width="1"/>
<text x="100.7" y="608.6" text-anchor="middle" style="font-size:8.6px;fill:#111">IgM+</text>
<text x="100.7" y="618.1" text-anchor="middle" style="font-size:8.6px;fill:#111">cMBC</text>
<path d="M144 598.3V600.5" stroke="#333" stroke-width="1"/>
<text x="144" y="608.6" text-anchor="middle" style="font-size:8.6px;fill:#111">IgG+</text>
<text x="144" y="618.1" text-anchor="middle" style="font-size:8.6px;fill:#111">cMBC</text>
<path d="M187.2 598.3V600.5" stroke="#333" stroke-width="1"/>
<text x="187.2" y="608.6" text-anchor="middle" style="font-size:8.6px;fill:#111">IgM+</text>
<text x="187.2" y="618.1" text-anchor="middle" style="font-size:8.6px;fill:#111">atMBC</text>
<path d="M230.5 598.3V600.5" stroke="#333" stroke-width="1"/>
<text x="230.5" y="608.6" text-anchor="middle" style="font-size:8.6px;fill:#111">IgG+</text>
<text x="230.5" y="618.1" text-anchor="middle" style="font-size:8.6px;fill:#111">atMBC</text>
<text x="6.9" y="487.6" text-anchor="middle" transform="rotate(-90 6.9 487.6)" style="font-size:8.1px;fill:#111">Acidic Side Chain Residue Content</text>
<path d="M57.6 467.2V474.4M57.6 487.6V487.6" stroke="#444" stroke-width="0.9"/>
<rect x="41.3" y="474.4" width="32.6" height="13.2" fill="none" stroke="#444" stroke-width="0.9"/>
<path d="M41.3 483.5H73.9" stroke="#333" stroke-width="1.7"/>
<path d="M100.7 441.3V475.1M100.7 503.4V530.3" stroke="#444" stroke-width="0.9"/>
<rect x="84" y="475.1" width="33.4" height="28.3" fill="none" stroke="#444" stroke-width="0.9"/>
<path d="M84 490.7H117.4" stroke="#333" stroke-width="1.7"/>
<path d="M144 464.9V484.6M144 502.1V506.9" stroke="#444" stroke-width="0.9"/>
<rect x="127.7" y="484.6" width="32.6" height="17.5" fill="none" stroke="#444" stroke-width="0.9"/>
<path d="M127.7 495.4H160.3" stroke="#333" stroke-width="1.7"/>
<path d="M187.15 490.6V497.3M187.15 527.5V545.8" stroke="#444" stroke-width="0.9"/>
<rect x="170.7" y="497.3" width="32.9" height="30.2" fill="none" stroke="#444" stroke-width="0.9"/>
<path d="M170.7 513.4H203.6" stroke="#333" stroke-width="1.7"/>
<path d="M230.45 465.3V482.2M230.45 521.5V563.6" stroke="#444" stroke-width="0.9"/>
<rect x="214.1" y="482.2" width="32.7" height="39.3" fill="none" stroke="#444" stroke-width="0.9"/>
<path d="M214.1 505.2H246.8" stroke="#333" stroke-width="1.7"/>
<circle cx="43.9" cy="474.4" r="1.95" fill="#f3c84e" stroke="#111" stroke-width="0.55"/>
<circle cx="51.6" cy="476.3" r="1.95" fill="#9c0012" stroke="#111" stroke-width="0.55"/>
<circle cx="54.5" cy="477.5" r="1.95" fill="#9c0012" stroke="#111" stroke-width="0.55"/>
<circle cx="56.6" cy="473.7" r="1.95" fill="#9c0012" stroke="#111" stroke-width="0.55"/>
<circle cx="66.7" cy="472.7" r="1.95" fill="#1f33c8" stroke="#111" stroke-width="0.55"/>
<circle cx="71.3" cy="466.7" r="1.95" fill="#1f33c8" stroke="#111" stroke-width="0.55"/>
<circle cx="63.8" cy="483.5" r="1.95" fill="#1f33c8" stroke="#111" stroke-width="0.55"/>
<circle cx="74.2" cy="485.7" r="1.95" fill="#1f33c8" stroke="#111" stroke-width="0.55"/>
<circle cx="49.2" cy="487.6" r="1.95" fill="#f3c84e" stroke="#111" stroke-width="0.55"/>
<circle cx="58.8" cy="487.1" r="1.95" fill="#9c0012" stroke="#111" stroke-width="0.55"/>
<circle cx="61.9" cy="488.6" r="1.95" fill="#9c0012" stroke="#111" stroke-width="0.55"/>
<circle cx="46.8" cy="515.7" r="1.95" fill="#f3c84e" stroke="#111" stroke-width="0.55"/>
<circle cx="69.1" cy="511.1" r="1.95" fill="#1f33c8" stroke="#111" stroke-width="0.55"/>
<circle cx="104.4" cy="441.3" r="1.95" fill="#9c0012" stroke="#111" stroke-width="0.55"/>
<circle cx="101.5" cy="463.6" r="1.95" fill="#9c0012" stroke="#111" stroke-width="0.55"/>
<circle cx="86.9" cy="472.5" r="1.95" fill="#f3c84e" stroke="#111" stroke-width="0.55"/>
<circle cx="93.4" cy="476.8" r="1.95" fill="#f3c84e" stroke="#111" stroke-width="0.55"/>
<circle cx="95.3" cy="475.6" r="1.95" fill="#f3c84e" stroke="#111" stroke-width="0.55"/>
<circle cx="111.1" cy="475.1" r="1.95" fill="#1f33c8" stroke="#111" stroke-width="0.55"/>
<circle cx="116.2" cy="466.9" r="1.95" fill="#1f33c8" stroke="#111" stroke-width="0.55"/>
<circle cx="112.8" cy="478.7" r="1.95" fill="#1f33c8" stroke="#111" stroke-width="0.55"/>
<circle cx="103.2" cy="486.4" r="1.95" fill="#9c0012" stroke="#111" stroke-width="0.55"/>
<circle cx="106.3" cy="487.4" r="1.95" fill="#9c0012" stroke="#111" stroke-width="0.55"/>
<circle cx="109.4" cy="494.8" r="1.95" fill="#1f33c8" stroke="#111" stroke-width="0.55"/>
<circle cx="114.5" cy="497.2" r="1.95" fill="#1f33c8" stroke="#111" stroke-width="0.55"/>
<circle cx="107.8" cy="498.9" r="1.95" fill="#9c0012" stroke="#111" stroke-width="0.55"/>
<circle cx="98.4" cy="499.8" r="1.95" fill="#9c0012" stroke="#111" stroke-width="0.55"/>
<circle cx="90" cy="503.4" r="1.95" fill="#f3c84e" stroke="#111" stroke-width="0.55"/>
<circle cx="99.8" cy="503.7" r="1.95" fill="#9c0012" stroke="#111" stroke-width="0.55"/>
<circle cx="117.4" cy="513.5" r="1.95" fill="#1f33c8" stroke="#111" stroke-width="0.55"/>
<circle cx="88.6" cy="530.8" r="1.95" fill="#f3c84e" stroke="#111" stroke-width="0.55"/>
<circle cx="96.7" cy="552.4" r="1.95" fill="#f3c84e" stroke="#111" stroke-width="0.55"/>
<circle cx="91.7" cy="557.9" r="1.95" fill="#f3c84e" stroke="#111" stroke-width="0.55"/>
<circle cx="149.5" cy="464.4" r="1.95" fill="#9c0012" stroke="#111" stroke-width="0.55"/>
<circle cx="154.3" cy="473.3" r="1.95" fill="#1f33c8" stroke="#111" stroke-width="0.55"/>
<circle cx="156" cy="479.3" r="1.95" fill="#1f33c8" stroke="#111" stroke-width="0.55"/>
<circle cx="133.4" cy="481" r="1.95" fill="#f3c84e" stroke="#111" stroke-width="0.55"/>
<circle cx="144.5" cy="480.5" r="1.95" fill="#9c0012" stroke="#111" stroke-width="0.55"/>
<circle cx="131.5" cy="487.7" r="1.95" fill="#f3c84e" stroke="#111" stroke-width="0.55"/>
<circle cx="148.1" cy="486" r="1.95" fill="#9c0012" stroke="#111" stroke-width="0.55"/>
<circle cx="139.9" cy="492.5" r="1.95" fill="#f3c84e" stroke="#111" stroke-width="0.55"/>
<circle cx="146.2" cy="493" r="1.95" fill="#9c0012" stroke="#111" stroke-width="0.55"/>
<circle cx="151" cy="493" r="1.95" fill="#9c0012" stroke="#111" stroke-width="0.55"/>
<circle cx="141.6" cy="498" r="1.95" fill="#9c0012" stroke="#111" stroke-width="0.55"/>
<circle cx="143.1" cy="498" r="1.95" fill="#9c0012" stroke="#111" stroke-width="0.55"/>
<circle cx="152.9" cy="498" r="1.95" fill="#1f33c8" stroke="#111" stroke-width="0.55"/>
<circle cx="130.1" cy="501.6" r="1.95" fill="#f3c84e" stroke="#111" stroke-width="0.55"/>
<circle cx="134.9" cy="502.8" r="1.95" fill="#f3c84e" stroke="#111" stroke-width="0.55"/>
<circle cx="157.7" cy="502.1" r="1.95" fill="#1f33c8" stroke="#111" stroke-width="0.55"/>
<circle cx="160.8" cy="503.8" r="1.95" fill="#1f33c8" stroke="#111" stroke-width="0.55"/>
<circle cx="138" cy="506.9" r="1.95" fill="#f3c84e" stroke="#111" stroke-width="0.55"/>
<circle cx="136.3" cy="558.8" r="1.95" fill="#f3c84e" stroke="#111" stroke-width="0.55"/>
<circle cx="194.2" cy="421.2" r="1.95" fill="#9c0012" stroke="#111" stroke-width="0.55"/>
<circle cx="184.6" cy="446.4" r="1.95" fill="#f3c84e" stroke="#111" stroke-width="0.55"/>
<circle cx="190.4" cy="490.1" r="1.95" fill="#9c0012" stroke="#111" stroke-width="0.55"/>
<circle cx="198" cy="492.5" r="1.95" fill="#9c0012" stroke="#111" stroke-width="0.55"/>
<circle cx="173.3" cy="497.3" r="1.95" fill="#f3c84e" stroke="#111" stroke-width="0.55"/>
<circle cx="192" cy="505.9" r="1.95" fill="#9c0012" stroke="#111" stroke-width="0.55"/>
<circle cx="196.1" cy="508.8" r="1.95" fill="#9c0012" stroke="#111" stroke-width="0.55"/>
<circle cx="182.9" cy="511.7" r="1.95" fill="#f3c84e" stroke="#111" stroke-width="0.55"/>
<circle cx="186.5" cy="513.4" r="1.95" fill="#9c0012" stroke="#111" stroke-width="0.55"/>
<circle cx="188.7" cy="517.5" r="1.95" fill="#9c0012" stroke="#111" stroke-width="0.55"/>
<circle cx="201.9" cy="520.6" r="1.95" fill="#1f33c8" stroke="#111" stroke-width="0.55"/>
<circle cx="181" cy="524.2" r="1.95" fill="#f3c84e" stroke="#111" stroke-width="0.55"/>
<circle cx="178.8" cy="527.8" r="1.95" fill="#f3c84e" stroke="#111" stroke-width="0.55"/>
<circle cx="174.8" cy="530.9" r="1.95" fill="#f3c84e" stroke="#111" stroke-width="0.55"/>
<circle cx="177.2" cy="531.6" r="1.95" fill="#f3c84e" stroke="#111" stroke-width="0.55"/>
<circle cx="200" cy="545.8" r="1.95" fill="#1f33c8" stroke="#111" stroke-width="0.55"/>
<circle cx="203.8" cy="545.8" r="1.95" fill="#1f33c8" stroke="#111" stroke-width="0.55"/>
<circle cx="237.4" cy="388.3" r="1.95" fill="#9c0012" stroke="#111" stroke-width="0.55"/>
<circle cx="235.3" cy="465.1" r="1.95" fill="#9c0012" stroke="#111" stroke-width="0.55"/>
<circle cx="244.4" cy="475" r="1.95" fill="#1f33c8" stroke="#111" stroke-width="0.55"/>
<circle cx="216.8" cy="481" r="1.95" fill="#f3c84e" stroke="#111" stroke-width="0.55"/>
<circle cx="221.3" cy="487" r="1.95" fill="#f3c84e" stroke="#111" stroke-width="0.55"/>
<circle cx="239.6" cy="486.5" r="1.95" fill="#9c0012" stroke="#111" stroke-width="0.55"/>
<circle cx="232.6" cy="505.2" r="1.95" fill="#9c0012" stroke="#111" stroke-width="0.55"/>
<circle cx="242.2" cy="505.2" r="1.95" fill="#9c0012" stroke="#111" stroke-width="0.55"/>
<circle cx="218.7" cy="512.9" r="1.95" fill="#f3c84e" stroke="#111" stroke-width="0.55"/>
<circle cx="225.7" cy="521.3" r="1.95" fill="#f3c84e" stroke="#111" stroke-width="0.55"/>
<circle cx="228.3" cy="521.8" r="1.95" fill="#f3c84e" stroke="#111" stroke-width="0.55"/>
<circle cx="223.7" cy="551.3" r="1.95" fill="#f3c84e" stroke="#111" stroke-width="0.55"/>
<circle cx="246.6" cy="564" r="1.95" fill="#1f33c8" stroke="#111" stroke-width="0.55"/>
<circle cx="230.5" cy="585" r="1.95" fill="#9c0012" stroke="#111" stroke-width="0.55"/>
<text x="296" y="334" style="font-size:9.6px;fill:#111">Hydrophobicity</text>
<path d="M295.8 375.3V598.2H519" fill="none" stroke="#333" stroke-width="1.05"/>
<path d="M293.6 574H295.8" stroke="#333" stroke-width="1"/>
<text x="291.8" y="577.05" text-anchor="end" style="font-size:8.5px;fill:#111">&#8722;0.7</text>
<path d="M293.6 514H295.8" stroke="#333" stroke-width="1"/>
<text x="291.8" y="517.05" text-anchor="end" style="font-size:8.5px;fill:#111">&#8722;0.6</text>
<path d="M293.6 453.3H295.8" stroke="#333" stroke-width="1"/>
<text x="291.8" y="456.35" text-anchor="end" style="font-size:8.5px;fill:#111">&#8722;0.5</text>
<path d="M293.6 392.8H295.8" stroke="#333" stroke-width="1"/>
<text x="291.8" y="395.85" text-anchor="end" style="font-size:8.5px;fill:#111">&#8722;0.4</text>
<path d="M321.6 598.2V600.4" stroke="#333" stroke-width="1"/>
<text x="321.6" y="608.5" text-anchor="middle" style="font-size:8.6px;fill:#111">NBC</text>
<path d="M365 598.2V600.4" stroke="#333" stroke-width="1"/>
<text x="365" y="608.5" text-anchor="middle" style="font-size:8.6px;fill:#111">IgM+</text>
<text x="365" y="618" text-anchor="middle" style="font-size:8.6px;fill:#111">cMBC</text>
<path d="M408 598.2V600.4" stroke="#333" stroke-width="1"/>
<text x="408" y="608.5" text-anchor="middle" style="font-size:8.6px;fill:#111">IgG+</text>
<text x="408" y="618" text-anchor="middle" style="font-size:8.6px;fill:#111">cMBC</text>
<path d="M451.2 598.2V600.4" stroke="#333" stroke-width="1"/>
<text x="451.2" y="608.5" text-anchor="middle" style="font-size:8.6px;fill:#111">IgM+</text>
<text x="451.2" y="618" text-anchor="middle" style="font-size:8.6px;fill:#111">atMBC</text>
<path d="M494 598.2V600.4" stroke="#333" stroke-width="1"/>
<text x="494" y="608.5" text-anchor="middle" style="font-size:8.6px;fill:#111">IgG+</text>
<text x="494" y="618" text-anchor="middle" style="font-size:8.6px;fill:#111">atMBC</text>
<text x="270.6" y="487" text-anchor="middle" transform="rotate(-90 270.6 487)" style="font-size:8.1px;fill:#111">GRAVY</text>
<path d="M321.6 444.4V461.9M321.6 478.5V491.2" stroke="#444" stroke-width="0.9"/>
<rect x="305.4" y="461.9" width="32.4" height="16.6" fill="none" stroke="#444" stroke-width="0.9"/>
<path d="M305.4 473.2H337.8" stroke="#333" stroke-width="1.7"/>
<path d="M365 488.1V513M365 535.1V555.5" stroke="#444" stroke-width="0.9"/>
<rect x="348.6" y="513" width="32.8" height="22.1" fill="none" stroke="#444" stroke-width="0.9"/>
<path d="M348.6 524.3H381.4" stroke="#333" stroke-width="1.7"/>
<path d="M407.95 421.6V454.1M407.95 493V525" stroke="#444" stroke-width="0.9"/>
<rect x="391.5" y="454.1" width="32.9" height="38.9" fill="none" stroke="#444" stroke-width="0.9"/>
<path d="M391.5 466.6H424.4" stroke="#333" stroke-width="1.7"/>
<path d="M451.15 396.4V442.5M451.15 486.3V509.8" stroke="#444" stroke-width="0.9"/>
<rect x="434.7" y="442.5" width="32.9" height="43.8" fill="none" stroke="#444" stroke-width="0.9"/>
<path d="M434.7 471.8H467.6" stroke="#333" stroke-width="1.7"/>
<path d="M494.05 444.5V471.6M494.05 526.9V566.5" stroke="#444" stroke-width="0.9"/>
<rect x="477.7" y="471.6" width="32.7" height="55.3" fill="none" stroke="#444" stroke-width="0.9"/>
<path d="M477.7 491.5H510.4" stroke="#333" stroke-width="1.7"/>
<circle cx="330.6" cy="443.9" r="1.95" fill="#1f33c8" stroke="#111" stroke-width="0.55"/>
<circle cx="323.4" cy="455.4" r="1.95" fill="#9c0012" stroke="#111" stroke-width="0.55"/>
<circle cx="308" cy="458.8" r="1.95" fill="#f3c84e" stroke="#111" stroke-width="0.55"/>
<circle cx="318.3" cy="461.9" r="1.95" fill="#9c0012" stroke="#111" stroke-width="0.55"/>
<circle cx="310.9" cy="466" r="1.95" fill="#f3c84e" stroke="#111" stroke-width="0.55"/>
<circle cx="327.9" cy="468.4" r="1.95" fill="#1f33c8" stroke="#111" stroke-width="0.55"/>
<circle cx="325.8" cy="473.2" r="1.95" fill="#9c0012" stroke="#111" stroke-width="0.55"/>
<circle cx="333.2" cy="473.9" r="1.95" fill="#1f33c8" stroke="#111" stroke-width="0.55"/>
<circle cx="320.7" cy="476.8" r="1.95" fill="#9c0012" stroke="#111" stroke-width="0.55"/>
<circle cx="315.7" cy="478.5" r="1.95" fill="#9c0012" stroke="#111" stroke-width="0.55"/>
<circle cx="338.2" cy="478.5" r="1.95" fill="#1f33c8" stroke="#111" stroke-width="0.55"/>
<circle cx="335.6" cy="487.1" r="1.95" fill="#1f33c8" stroke="#111" stroke-width="0.55"/>
<circle cx="313" cy="491.4" r="1.95" fill="#f3c84e" stroke="#111" stroke-width="0.55"/>
<circle cx="357.4" cy="456.9" r="1.95" fill="#f3c84e" stroke="#111" stroke-width="0.55"/>
<circle cx="355.5" cy="488.1" r="1.95" fill="#f3c84e" stroke="#111" stroke-width="0.55"/>
<circle cx="358.9" cy="493.8" r="1.95" fill="#f3c84e" stroke="#111" stroke-width="0.55"/>
<circle cx="381.4" cy="487.6" r="1.95" fill="#1f33c8" stroke="#111" stroke-width="0.55"/>
<circle cx="360.3" cy="513.3" r="1.95" fill="#f3c84e" stroke="#111" stroke-width="0.55"/>
<circle cx="375" cy="511.8" r="1.95" fill="#1f33c8" stroke="#111" stroke-width="0.55"/>
<circle cx="378.3" cy="515.9" r="1.95" fill="#1f33c8" stroke="#111" stroke-width="0.55"/>
<circle cx="362.2" cy="518.8" r="1.95" fill="#9c0012" stroke="#111" stroke-width="0.55"/>
<circle cx="364.2" cy="520" r="1.95" fill="#9c0012" stroke="#111" stroke-width="0.55"/>
<circle cx="352.6" cy="522.6" r="1.95" fill="#f3c84e" stroke="#111" stroke-width="0.55"/>
<circle cx="351.4" cy="526.2" r="1.95" fill="#f3c84e" stroke="#111" stroke-width="0.55"/>
<circle cx="373.5" cy="530.3" r="1.95" fill="#1f33c8" stroke="#111" stroke-width="0.55"/>
<circle cx="376.6" cy="532.5" r="1.95" fill="#1f33c8" stroke="#111" stroke-width="0.55"/>
<circle cx="379.8" cy="528.4" r="1.95" fill="#1f33c8" stroke="#111" stroke-width="0.55"/>
<circle cx="365.6" cy="534.6" r="1.95" fill="#9c0012" stroke="#111" stroke-width="0.55"/>
<circle cx="367.3" cy="538" r="1.95" fill="#9c0012" stroke="#111" stroke-width="0.55"/>
<circle cx="370.2" cy="536.8" r="1.95" fill="#9c0012" stroke="#111" stroke-width="0.55"/>
<circle cx="372.3" cy="538.7" r="1.95" fill="#9c0012" stroke="#111" stroke-width="0.55"/>
<circle cx="368.5" cy="552.4" r="1.95" fill="#9c0012" stroke="#111" stroke-width="0.55"/>
<circle cx="353.8" cy="555.5" r="1.95" fill="#f3c84e" stroke="#111" stroke-width="0.55"/>
<circle cx="406.9" cy="421.6" r="1.95" fill="#9c0012" stroke="#111" stroke-width="0.55"/>
<circle cx="398.9" cy="445.9" r="1.95" fill="#f3c84e" stroke="#111" stroke-width="0.55"/>
<circle cx="413.3" cy="447.4" r="1.95" fill="#9c0012" stroke="#111" stroke-width="0.55"/>
<circle cx="416.5" cy="445.9" r="1.95" fill="#1f33c8" stroke="#111" stroke-width="0.55"/>
<circle cx="393.9" cy="452.4" r="1.95" fill="#f3c84e" stroke="#111" stroke-width="0.55"/>
<circle cx="401.8" cy="454.8" r="1.95" fill="#f3c84e" stroke="#111" stroke-width="0.55"/>
<circle cx="405.4" cy="456" r="1.95" fill="#9c0012" stroke="#111" stroke-width="0.55"/>
<circle cx="421.5" cy="455.8" r="1.95" fill="#1f33c8" stroke="#111" stroke-width="0.55"/>
<circle cx="395.6" cy="458.2" r="1.95" fill="#f3c84e" stroke="#111" stroke-width="0.55"/>
<circle cx="403.7" cy="465.1" r="1.95" fill="#f3c84e" stroke="#111" stroke-width="0.55"/>
<circle cx="400.1" cy="468.5" r="1.95" fill="#f3c84e" stroke="#111" stroke-width="0.55"/>
<circle cx="414.8" cy="474.5" r="1.95" fill="#9c0012" stroke="#111" stroke-width="0.55"/>
<circle cx="424.6" cy="475" r="1.95" fill="#1f33c8" stroke="#111" stroke-width="0.55"/>
<circle cx="417.9" cy="483.6" r="1.95" fill="#1f33c8" stroke="#111" stroke-width="0.55"/>
<circle cx="423" cy="492.5" r="1.95" fill="#1f33c8" stroke="#111" stroke-width="0.55"/>
<circle cx="397" cy="494.4" r="1.95" fill="#f3c84e" stroke="#111" stroke-width="0.55"/>
<circle cx="410" cy="495.2" r="1.95" fill="#9c0012" stroke="#111" stroke-width="0.55"/>
<circle cx="408.3" cy="499.2" r="1.95" fill="#9c0012" stroke="#111" stroke-width="0.55"/>
<circle cx="411.7" cy="502.8" r="1.95" fill="#9c0012" stroke="#111" stroke-width="0.55"/>
<circle cx="419.8" cy="524.9" r="1.95" fill="#1f33c8" stroke="#111" stroke-width="0.55"/>
<circle cx="446.5" cy="395.9" r="1.95" fill="#f3c84e" stroke="#111" stroke-width="0.55"/>
<circle cx="442.9" cy="417.3" r="1.95" fill="#f3c84e" stroke="#111" stroke-width="0.55"/>
<circle cx="465.7" cy="418" r="1.95" fill="#1f33c8" stroke="#111" stroke-width="0.55"/>
<circle cx="467.6" cy="438.7" r="1.95" fill="#1f33c8" stroke="#111" stroke-width="0.55"/>
<circle cx="456.1" cy="442.8" r="1.95" fill="#9c0012" stroke="#111" stroke-width="0.55"/>
<circle cx="452.5" cy="463.2" r="1.95" fill="#9c0012" stroke="#111" stroke-width="0.55"/>
<circle cx="459.9" cy="464.6" r="1.95" fill="#9c0012" stroke="#111" stroke-width="0.55"/>
<circle cx="463.8" cy="469.7" r="1.95" fill="#1f33c8" stroke="#111" stroke-width="0.55"/>
<circle cx="461.9" cy="471.8" r="1.95" fill="#9c0012" stroke="#111" stroke-width="0.55"/>
<circle cx="450.3" cy="477.6" r="1.95" fill="#9c0012" stroke="#111" stroke-width="0.55"/>
<circle cx="458" cy="481.9" r="1.95" fill="#9c0012" stroke="#111" stroke-width="0.55"/>
<circle cx="439.3" cy="483.6" r="1.95" fill="#f3c84e" stroke="#111" stroke-width="0.55"/>
<circle cx="454.4" cy="486" r="1.95" fill="#9c0012" stroke="#111" stroke-width="0.55"/>
<circle cx="437.1" cy="494.2" r="1.95" fill="#f3c84e" stroke="#111" stroke-width="0.55"/>
<circle cx="444.8" cy="494.9" r="1.95" fill="#f3c84e" stroke="#111" stroke-width="0.55"/>
<circle cx="441" cy="510" r="1.95" fill="#f3c84e" stroke="#111" stroke-width="0.55"/>
<circle cx="448.7" cy="585" r="1.95" fill="#f3c84e" stroke="#111" stroke-width="0.55"/>
<circle cx="494.3" cy="388.3" r="1.95" fill="#9c0012" stroke="#111" stroke-width="0.55"/>
<circle cx="510.4" cy="443.7" r="1.95" fill="#1f33c8" stroke="#111" stroke-width="0.55"/>
<circle cx="491.9" cy="459.4" r="1.95" fill="#f3c84e" stroke="#111" stroke-width="0.55"/>
<circle cx="487.3" cy="471.6" r="1.95" fill="#f3c84e" stroke="#111" stroke-width="0.55"/>
<circle cx="503.4" cy="471.8" r="1.95" fill="#9c0012" stroke="#111" stroke-width="0.55"/>
<circle cx="482.5" cy="488.4" r="1.95" fill="#f3c84e" stroke="#111" stroke-width="0.55"/>
<circle cx="496.5" cy="488.2" r="1.95" fill="#9c0012" stroke="#111" stroke-width="0.55"/>
<circle cx="480.6" cy="494.7" r="1.95" fill="#f3c84e" stroke="#111" stroke-width="0.55"/>
<circle cx="489.7" cy="514.4" r="1.95" fill="#f3c84e" stroke="#111" stroke-width="0.55"/>
<circle cx="508.2" cy="519.9" r="1.95" fill="#1f33c8" stroke="#111" stroke-width="0.55"/>
<circle cx="484.9" cy="529.5" r="1.95" fill="#f3c84e" stroke="#111" stroke-width="0.55"/>
<circle cx="505.8" cy="529" r="1.95" fill="#9c0012" stroke="#111" stroke-width="0.55"/>
<circle cx="501.3" cy="546.1" r="1.95" fill="#9c0012" stroke="#111" stroke-width="0.55"/>
<circle cx="498.9" cy="567" r="1.95" fill="#9c0012" stroke="#111" stroke-width="0.55"/>
<path d="M321.8 367.8H364.3" stroke="#000" stroke-width="1.6"/>
<path d="M339.5 360.5L339.5 365.7M337.4 361.57L341.6 364.63M341.6 361.57L337.4 364.63M346.6 360.5L346.6 365.7M344.5 361.57L348.7 364.63M348.7 361.57L344.5 364.63M353.7 360.5L353.7 365.7M351.6 361.57L355.8 364.63M355.8 361.57L351.6 364.63" stroke="#111" stroke-width="1.2" stroke-linecap="round"/>
<path d="M364.3 357.6H406.7" stroke="#000" stroke-width="1.6"/>
<path d="M381.3 350.3L381.3 355.5M379.2 351.37L383.4 354.43M383.4 351.37L379.2 354.43M388.4 350.3L388.4 355.5M386.3 351.37L390.5 354.43M390.5 351.37L386.3 354.43M395.5 350.3L395.5 355.5M393.4 351.37L397.6 354.43M397.6 351.37L393.4 354.43" stroke="#111" stroke-width="1.2" stroke-linecap="round"/>
<path d="M364.3 345.8H450.5" stroke="#000" stroke-width="1.6"/>
<path d="M404.7 338.5L404.7 343.7M402.6 339.57L406.8 342.63M406.8 339.57L402.6 342.63M411.8 338.5L411.8 343.7M409.7 339.57L413.9 342.63M413.9 339.57L409.7 342.63M418.9 338.5L418.9 343.7M416.8 339.57L421 342.63M421 339.57L416.8 342.63" stroke="#111" stroke-width="1.2" stroke-linecap="round"/>
<text x="560.8" y="334" style="font-size:9.6px;fill:#111">Aliphatic Amino Acid Content</text>
<path d="M561.5 375.3V598.2H785.1" fill="none" stroke="#333" stroke-width="1.05"/>
<path d="M559.3 564.6H561.5" stroke="#333" stroke-width="1"/>
<text x="557.5" y="567.65" text-anchor="end" style="font-size:8.5px;fill:#111">0.45</text>
<path d="M559.3 512.2H561.5" stroke="#333" stroke-width="1"/>
<text x="557.5" y="515.25" text-anchor="end" style="font-size:8.5px;fill:#111">0.50</text>
<path d="M559.3 459.6H561.5" stroke="#333" stroke-width="1"/>
<text x="557.5" y="462.65" text-anchor="end" style="font-size:8.5px;fill:#111">0.55</text>
<path d="M559.3 407.2H561.5" stroke="#333" stroke-width="1"/>
<text x="557.5" y="410.25" text-anchor="end" style="font-size:8.5px;fill:#111">0.60</text>
<path d="M587.1 598.2V600.4" stroke="#333" stroke-width="1"/>
<text x="587.1" y="608.5" text-anchor="middle" style="font-size:8.6px;fill:#111">NBC</text>
<path d="M630.3 598.2V600.4" stroke="#333" stroke-width="1"/>
<text x="630.3" y="608.5" text-anchor="middle" style="font-size:8.6px;fill:#111">IgM+</text>
<text x="630.3" y="618" text-anchor="middle" style="font-size:8.6px;fill:#111">cMBC</text>
<path d="M673.1 598.2V600.4" stroke="#333" stroke-width="1"/>
<text x="673.1" y="608.5" text-anchor="middle" style="font-size:8.6px;fill:#111">IgG+</text>
<text x="673.1" y="618" text-anchor="middle" style="font-size:8.6px;fill:#111">cMBC</text>
<path d="M716.6 598.2V600.4" stroke="#333" stroke-width="1"/>
<text x="716.6" y="608.5" text-anchor="middle" style="font-size:8.6px;fill:#111">IgM+</text>
<text x="716.6" y="618" text-anchor="middle" style="font-size:8.6px;fill:#111">atMBC</text>
<path d="M759.8 598.2V600.4" stroke="#333" stroke-width="1"/>
<text x="759.8" y="608.5" text-anchor="middle" style="font-size:8.6px;fill:#111">IgG+</text>
<text x="759.8" y="618" text-anchor="middle" style="font-size:8.6px;fill:#111">atMBC</text>
<text x="535.3" y="486.5" text-anchor="middle" transform="rotate(-90 535.3 486.5)" style="font-size:8.1px;fill:#111">Normalized Aliphatic Index</text>
<path d="M587.05 468.5V476.7M587.05 505V511.7" stroke="#444" stroke-width="0.9"/>
<rect x="570.6" y="476.7" width="32.9" height="28.3" fill="none" stroke="#444" stroke-width="0.9"/>
<path d="M570.6 489.4H603.5" stroke="#333" stroke-width="1.7"/>
<path d="M630.3 497.3V510.5M630.3 533.6V541.8" stroke="#444" stroke-width="0.9"/>
<rect x="614.1" y="510.5" width="32.4" height="23.1" fill="none" stroke="#444" stroke-width="0.9"/>
<path d="M614.1 520.6H646.5" stroke="#333" stroke-width="1.7"/>
<path d="M673.05 388V442.8M673.05 484.3V502.8" stroke="#444" stroke-width="0.9"/>
<rect x="657.1" y="442.8" width="31.9" height="41.5" fill="none" stroke="#444" stroke-width="0.9"/>
<path d="M657.1 468.5H689" stroke="#333" stroke-width="1.7"/>
<path d="M716.6 420.9V471.3M716.6 507.5V536.8" stroke="#444" stroke-width="0.9"/>
<rect x="700.4" y="471.3" width="32.4" height="36.2" fill="none" stroke="#444" stroke-width="0.9"/>
<path d="M700.4 484.7H732.8" stroke="#333" stroke-width="1.7"/>
<path d="M759.8 430.5V459.3M759.8 502V547.6" stroke="#444" stroke-width="0.9"/>
<rect x="743.6" y="459.3" width="32.4" height="42.7" fill="none" stroke="#444" stroke-width="0.9"/>
<path d="M743.6 472H776" stroke="#333" stroke-width="1.7"/>
<circle cx="596.1" cy="468" r="1.95" fill="#1f33c8" stroke="#111" stroke-width="0.55"/>
<circle cx="573.3" cy="475.7" r="1.95" fill="#f3c84e" stroke="#111" stroke-width="0.55"/>
<circle cx="576.1" cy="476.9" r="1.95" fill="#f3c84e" stroke="#111" stroke-width="0.55"/>
<circle cx="588.6" cy="475.7" r="1.95" fill="#9c0012" stroke="#111" stroke-width="0.55"/>
<circle cx="583.6" cy="485.8" r="1.95" fill="#9c0012" stroke="#111" stroke-width="0.55"/>
<circle cx="586.2" cy="488.9" r="1.95" fill="#9c0012" stroke="#111" stroke-width="0.55"/>
<circle cx="603.5" cy="489.6" r="1.95" fill="#1f33c8" stroke="#111" stroke-width="0.55"/>
<circle cx="600.9" cy="494.9" r="1.95" fill="#1f33c8" stroke="#111" stroke-width="0.55"/>
<circle cx="593.4" cy="497.8" r="1.95" fill="#1f33c8" stroke="#111" stroke-width="0.55"/>
<circle cx="578.5" cy="505" r="1.95" fill="#f3c84e" stroke="#111" stroke-width="0.55"/>
<circle cx="591" cy="506.4" r="1.95" fill="#9c0012" stroke="#111" stroke-width="0.55"/>
<circle cx="580.9" cy="509.8" r="1.95" fill="#9c0012" stroke="#111" stroke-width="0.55"/>
<circle cx="598.5" cy="511.7" r="1.95" fill="#1f33c8" stroke="#111" stroke-width="0.55"/>
<circle cx="623" cy="431.7" r="1.95" fill="#f3c84e" stroke="#111" stroke-width="0.55"/>
<circle cx="624.4" cy="469.7" r="1.95" fill="#f3c84e" stroke="#111" stroke-width="0.55"/>
<circle cx="621.1" cy="496.8" r="1.95" fill="#f3c84e" stroke="#111" stroke-width="0.55"/>
<circle cx="617.9" cy="504" r="1.95" fill="#f3c84e" stroke="#111" stroke-width="0.55"/>
<circle cx="640.5" cy="503.3" r="1.95" fill="#1f33c8" stroke="#111" stroke-width="0.55"/>
<circle cx="643.9" cy="512.4" r="1.95" fill="#1f33c8" stroke="#111" stroke-width="0.55"/>
<circle cx="646.8" cy="512.4" r="1.95" fill="#1f33c8" stroke="#111" stroke-width="0.55"/>
<circle cx="616.5" cy="515.6" r="1.95" fill="#f3c84e" stroke="#111" stroke-width="0.55"/>
<circle cx="627.5" cy="517.7" r="1.95" fill="#9c0012" stroke="#111" stroke-width="0.55"/>
<circle cx="632.6" cy="522.8" r="1.95" fill="#9c0012" stroke="#111" stroke-width="0.55"/>
<circle cx="626.1" cy="529" r="1.95" fill="#f3c84e" stroke="#111" stroke-width="0.55"/>
<circle cx="639.1" cy="531.7" r="1.95" fill="#1f33c8" stroke="#111" stroke-width="0.55"/>
<circle cx="642.2" cy="534.5" r="1.95" fill="#1f33c8" stroke="#111" stroke-width="0.55"/>
<circle cx="619.6" cy="532.6" r="1.95" fill="#f3c84e" stroke="#111" stroke-width="0.55"/>
<circle cx="629.5" cy="533.6" r="1.95" fill="#9c0012" stroke="#111" stroke-width="0.55"/>
<circle cx="631.1" cy="534.3" r="1.95" fill="#9c0012" stroke="#111" stroke-width="0.55"/>
<circle cx="636" cy="537.4" r="1.95" fill="#9c0012" stroke="#111" stroke-width="0.55"/>
<circle cx="637.2" cy="542" r="1.95" fill="#9c0012" stroke="#111" stroke-width="0.55"/>
<circle cx="634" cy="574.4" r="1.95" fill="#9c0012" stroke="#111" stroke-width="0.55"/>
<circle cx="672.5" cy="388" r="1.95" fill="#9c0012" stroke="#111" stroke-width="0.55"/>
<circle cx="678.7" cy="426.2" r="1.95" fill="#9c0012" stroke="#111" stroke-width="0.55"/>
<circle cx="661.4" cy="438" r="1.95" fill="#f3c84e" stroke="#111" stroke-width="0.55"/>
<circle cx="664.3" cy="436.8" r="1.95" fill="#f3c84e" stroke="#111" stroke-width="0.55"/>
<circle cx="659.5" cy="442.8" r="1.95" fill="#f3c84e" stroke="#111" stroke-width="0.55"/>
<circle cx="682.3" cy="442.5" r="1.95" fill="#1f33c8" stroke="#111" stroke-width="0.55"/>
<circle cx="667.4" cy="449.3" r="1.95" fill="#f3c84e" stroke="#111" stroke-width="0.55"/>
<circle cx="669.1" cy="453.4" r="1.95" fill="#f3c84e" stroke="#111" stroke-width="0.55"/>
<circle cx="662.6" cy="466.1" r="1.95" fill="#f3c84e" stroke="#111" stroke-width="0.55"/>
<circle cx="670.8" cy="470.2" r="1.95" fill="#9c0012" stroke="#111" stroke-width="0.55"/>
<circle cx="686.9" cy="467.3" r="1.95" fill="#1f33c8" stroke="#111" stroke-width="0.55"/>
<circle cx="689" cy="471.8" r="1.95" fill="#1f33c8" stroke="#111" stroke-width="0.55"/>
<circle cx="683.8" cy="475.7" r="1.95" fill="#1f33c8" stroke="#111" stroke-width="0.55"/>
<circle cx="675.8" cy="481" r="1.95" fill="#9c0012" stroke="#111" stroke-width="0.55"/>
<circle cx="677.5" cy="482.9" r="1.95" fill="#9c0012" stroke="#111" stroke-width="0.55"/>
<circle cx="673.7" cy="487.5" r="1.95" fill="#9c0012" stroke="#111" stroke-width="0.55"/>
<circle cx="680.4" cy="488.2" r="1.95" fill="#9c0012" stroke="#111" stroke-width="0.55"/>
<circle cx="685.4" cy="503.3" r="1.95" fill="#1f33c8" stroke="#111" stroke-width="0.55"/>
<circle cx="689.5" cy="497.3" r="1.95" fill="#1f33c8" stroke="#111" stroke-width="0.55"/>
<circle cx="666" cy="584.7" r="1.95" fill="#f3c84e" stroke="#111" stroke-width="0.55"/>
<circle cx="708.6" cy="420.4" r="1.95" fill="#f3c84e" stroke="#111" stroke-width="0.55"/>
<circle cx="712.2" cy="428.8" r="1.95" fill="#f3c84e" stroke="#111" stroke-width="0.55"/>
<circle cx="723.4" cy="456.4" r="1.95" fill="#9c0012" stroke="#111" stroke-width="0.55"/>
<circle cx="719.8" cy="464.6" r="1.95" fill="#9c0012" stroke="#111" stroke-width="0.55"/>
<circle cx="710.5" cy="471.3" r="1.95" fill="#f3c84e" stroke="#111" stroke-width="0.55"/>
<circle cx="731.1" cy="478.2" r="1.95" fill="#1f33c8" stroke="#111" stroke-width="0.55"/>
<circle cx="721.8" cy="481.1" r="1.95" fill="#9c0012" stroke="#111" stroke-width="0.55"/>
<circle cx="725.4" cy="481.1" r="1.95" fill="#9c0012" stroke="#111" stroke-width="0.55"/>
<circle cx="704.7" cy="484.7" r="1.95" fill="#f3c84e" stroke="#111" stroke-width="0.55"/>
<circle cx="727.5" cy="492.4" r="1.95" fill="#9c0012" stroke="#111" stroke-width="0.55"/>
<circle cx="733.3" cy="491.7" r="1.95" fill="#1f33c8" stroke="#111" stroke-width="0.55"/>
<circle cx="717.9" cy="502.2" r="1.95" fill="#9c0012" stroke="#111" stroke-width="0.55"/>
<circle cx="702.8" cy="507.5" r="1.95" fill="#f3c84e" stroke="#111" stroke-width="0.55"/>
<circle cx="716" cy="511.1" r="1.95" fill="#9c0012" stroke="#111" stroke-width="0.55"/>
<circle cx="729.4" cy="513.7" r="1.95" fill="#1f33c8" stroke="#111" stroke-width="0.55"/>
<circle cx="706.6" cy="537.3" r="1.95" fill="#f3c84e" stroke="#111" stroke-width="0.55"/>
<circle cx="714.3" cy="573.3" r="1.95" fill="#f3c84e" stroke="#111" stroke-width="0.55"/>
<circle cx="755.4" cy="430.5" r="1.95" fill="#f3c84e" stroke="#111" stroke-width="0.55"/>
<circle cx="766.9" cy="441.3" r="1.95" fill="#9c0012" stroke="#111" stroke-width="0.55"/>
<circle cx="753" cy="449.4" r="1.95" fill="#f3c84e" stroke="#111" stroke-width="0.55"/>
<circle cx="760.2" cy="458.8" r="1.95" fill="#9c0012" stroke="#111" stroke-width="0.55"/>
<circle cx="746.2" cy="461.2" r="1.95" fill="#f3c84e" stroke="#111" stroke-width="0.55"/>
<circle cx="769.3" cy="466.2" r="1.95" fill="#9c0012" stroke="#111" stroke-width="0.55"/>
<circle cx="748.4" cy="472" r="1.95" fill="#f3c84e" stroke="#111" stroke-width="0.55"/>
<circle cx="757.5" cy="471.8" r="1.95" fill="#f3c84e" stroke="#111" stroke-width="0.55"/>
<circle cx="776" cy="483.3" r="1.95" fill="#1f33c8" stroke="#111" stroke-width="0.55"/>
<circle cx="762.3" cy="491.2" r="1.95" fill="#9c0012" stroke="#111" stroke-width="0.55"/>
<circle cx="750.6" cy="507.3" r="1.95" fill="#f3c84e" stroke="#111" stroke-width="0.55"/>
<circle cx="764.5" cy="505.6" r="1.95" fill="#9c0012" stroke="#111" stroke-width="0.55"/>
<circle cx="773.8" cy="510.9" r="1.95" fill="#1f33c8" stroke="#111" stroke-width="0.55"/>
<circle cx="771.4" cy="547.6" r="1.95" fill="#9c0012" stroke="#111" stroke-width="0.55"/>
<path d="M630.7 359.8H673.9" stroke="#000" stroke-width="1.6"/>
<path d="M649.5 352.5L649.5 357.7M647.4 353.57L651.6 356.63M651.6 353.57L647.4 356.63M656.6 352.5L656.6 357.7M654.5 353.57L658.7 356.63M658.7 353.57L654.5 356.63M663.7 352.5L663.7 357.7M661.6 353.57L665.8 356.63M665.8 353.57L661.6 356.63" stroke="#111" stroke-width="1.2" stroke-linecap="round"/>
<path d="M630.7 347.6H759.5" stroke="#000" stroke-width="1.6"/>
<path d="M694.6 340.3L694.6 345.5M692.5 341.37L696.7 344.43M696.7 341.37L692.5 344.43" stroke="#111" stroke-width="1.2" stroke-linecap="round"/>
<text x="32.2" y="657.5" style="font-size:9.6px;fill:#111">Bulkiness</text>
<path d="M32.1 707.7V930.3H255.2" fill="none" stroke="#333" stroke-width="1.05"/>
<path d="M29.9 924.9H32.1" stroke="#333" stroke-width="1"/>
<text x="28.1" y="927.95" text-anchor="end" style="font-size:8.5px;fill:#111">13.6</text>
<path d="M29.9 880H32.1" stroke="#333" stroke-width="1"/>
<text x="28.1" y="883.05" text-anchor="end" style="font-size:8.5px;fill:#111">13.8</text>
<path d="M29.9 835.3H32.1" stroke="#333" stroke-width="1"/>
<text x="28.1" y="838.35" text-anchor="end" style="font-size:8.5px;fill:#111">14.0</text>
<path d="M29.9 790.8H32.1" stroke="#333" stroke-width="1"/>
<text x="28.1" y="793.85" text-anchor="end" style="font-size:8.5px;fill:#111">14.2</text>
<path d="M29.9 746.8H32.1" stroke="#333" stroke-width="1"/>
<text x="28.1" y="749.85" text-anchor="end" style="font-size:8.5px;fill:#111">14.4</text>
<path d="M57.5 930.3V932.5" stroke="#333" stroke-width="1"/>
<text x="57.5" y="940.6" text-anchor="middle" style="font-size:8.6px;fill:#111">NBC</text>
<path d="M100.8 930.3V932.5" stroke="#333" stroke-width="1"/>
<text x="100.8" y="940.6" text-anchor="middle" style="font-size:8.6px;fill:#111">IgM+</text>
<text x="100.8" y="950.1" text-anchor="middle" style="font-size:8.6px;fill:#111">cMBC</text>
<path d="M144 930.3V932.5" stroke="#333" stroke-width="1"/>
<text x="144" y="940.6" text-anchor="middle" style="font-size:8.6px;fill:#111">IgG+</text>
<text x="144" y="950.1" text-anchor="middle" style="font-size:8.6px;fill:#111">cMBC</text>
<path d="M187.2 930.3V932.5" stroke="#333" stroke-width="1"/>
<text x="187.2" y="940.6" text-anchor="middle" style="font-size:8.6px;fill:#111">IgM+</text>
<text x="187.2" y="950.1" text-anchor="middle" style="font-size:8.6px;fill:#111">atMBC</text>
<path d="M230.4 930.3V932.5" stroke="#333" stroke-width="1"/>
<text x="230.4" y="940.6" text-anchor="middle" style="font-size:8.6px;fill:#111">IgG+</text>
<text x="230.4" y="950.1" text-anchor="middle" style="font-size:8.6px;fill:#111">atMBC</text>
<text x="6.5" y="819" text-anchor="middle" transform="rotate(-90 6.5 819)" style="font-size:8.1px;fill:#111">Average Bulkiness</text>
<path d="M57.5 781.1V791.9M57.5 807.5V821.2" stroke="#444" stroke-width="0.9"/>
<rect x="41.3" y="791.9" width="32.4" height="15.6" fill="none" stroke="#444" stroke-width="0.9"/>
<path d="M41.3 803.2H73.7" stroke="#333" stroke-width="1.7"/>
<path d="M100.8 811.6V823.1M100.8 852.9V860.3" stroke="#444" stroke-width="0.9"/>
<rect x="84.5" y="823.1" width="32.6" height="29.8" fill="none" stroke="#444" stroke-width="0.9"/>
<path d="M84.5 840.4H117.1" stroke="#333" stroke-width="1.7"/>
<path d="M144 763.6V782.4M144 808.5V824.9" stroke="#444" stroke-width="0.9"/>
<rect x="127.4" y="782.4" width="33.2" height="26.1" fill="none" stroke="#444" stroke-width="0.9"/>
<path d="M127.4 793.7H160.6" stroke="#333" stroke-width="1.7"/>
<path d="M187.15 725.7V756.7M187.15 808.1V841" stroke="#444" stroke-width="0.9"/>
<rect x="170.7" y="756.7" width="32.9" height="51.4" fill="none" stroke="#444" stroke-width="0.9"/>
<path d="M170.7 791.7H203.6" stroke="#333" stroke-width="1.7"/>
<path d="M230.35 720.9V758.4M230.35 798.7V838.1" stroke="#444" stroke-width="0.9"/>
<rect x="214.1" y="758.4" width="32.5" height="40.3" fill="none" stroke="#444" stroke-width="0.9"/>
<path d="M214.1 782.4H246.6" stroke="#333" stroke-width="1.7"/>
<circle cx="54.2" cy="780.6" r="1.95" fill="#9c0012" stroke="#111" stroke-width="0.55"/>
<circle cx="61.4" cy="789.3" r="1.95" fill="#9c0012" stroke="#111" stroke-width="0.55"/>
<circle cx="66.7" cy="790" r="1.95" fill="#1f33c8" stroke="#111" stroke-width="0.55"/>
<circle cx="69.4" cy="791.7" r="1.95" fill="#1f33c8" stroke="#111" stroke-width="0.55"/>
<circle cx="56.4" cy="795.3" r="1.95" fill="#9c0012" stroke="#111" stroke-width="0.55"/>
<circle cx="59" cy="797.2" r="1.95" fill="#9c0012" stroke="#111" stroke-width="0.55"/>
<circle cx="71.8" cy="803.7" r="1.95" fill="#1f33c8" stroke="#111" stroke-width="0.55"/>
<circle cx="43.9" cy="805.1" r="1.95" fill="#f3c84e" stroke="#111" stroke-width="0.55"/>
<circle cx="46.6" cy="805.8" r="1.95" fill="#f3c84e" stroke="#111" stroke-width="0.55"/>
<circle cx="51.4" cy="807" r="1.95" fill="#9c0012" stroke="#111" stroke-width="0.55"/>
<circle cx="49.2" cy="809.7" r="1.95" fill="#f3c84e" stroke="#111" stroke-width="0.55"/>
<circle cx="73.9" cy="816.4" r="1.95" fill="#1f33c8" stroke="#111" stroke-width="0.55"/>
<circle cx="63.8" cy="821.2" r="1.95" fill="#1f33c8" stroke="#111" stroke-width="0.55"/>
<circle cx="96.5" cy="811.1" r="1.95" fill="#f3c84e" stroke="#111" stroke-width="0.55"/>
<circle cx="98.2" cy="811.1" r="1.95" fill="#9c0012" stroke="#111" stroke-width="0.55"/>
<circle cx="117.6" cy="812.8" r="1.95" fill="#1f33c8" stroke="#111" stroke-width="0.55"/>
<circle cx="104.2" cy="820.7" r="1.95" fill="#9c0012" stroke="#111" stroke-width="0.55"/>
<circle cx="108" cy="823.6" r="1.95" fill="#9c0012" stroke="#111" stroke-width="0.55"/>
<circle cx="94.8" cy="821.9" r="1.95" fill="#f3c84e" stroke="#111" stroke-width="0.55"/>
<circle cx="110.9" cy="834.9" r="1.95" fill="#1f33c8" stroke="#111" stroke-width="0.55"/>
<circle cx="112.6" cy="836.3" r="1.95" fill="#1f33c8" stroke="#111" stroke-width="0.55"/>
<circle cx="114.2" cy="838.5" r="1.95" fill="#1f33c8" stroke="#111" stroke-width="0.55"/>
<circle cx="116.2" cy="841.6" r="1.95" fill="#1f33c8" stroke="#111" stroke-width="0.55"/>
<circle cx="90.2" cy="838" r="1.95" fill="#f3c84e" stroke="#111" stroke-width="0.55"/>
<circle cx="101.3" cy="844.7" r="1.95" fill="#9c0012" stroke="#111" stroke-width="0.55"/>
<circle cx="93.1" cy="848.1" r="1.95" fill="#f3c84e" stroke="#111" stroke-width="0.55"/>
<circle cx="99.6" cy="851.9" r="1.95" fill="#9c0012" stroke="#111" stroke-width="0.55"/>
<circle cx="106.1" cy="851.9" r="1.95" fill="#9c0012" stroke="#111" stroke-width="0.55"/>
<circle cx="87.1" cy="855.5" r="1.95" fill="#f3c84e" stroke="#111" stroke-width="0.55"/>
<circle cx="88.8" cy="856" r="1.95" fill="#f3c84e" stroke="#111" stroke-width="0.55"/>
<circle cx="103" cy="856.5" r="1.95" fill="#9c0012" stroke="#111" stroke-width="0.55"/>
<circle cx="109.4" cy="856.2" r="1.95" fill="#1f33c8" stroke="#111" stroke-width="0.55"/>
<circle cx="91.7" cy="860.8" r="1.95" fill="#f3c84e" stroke="#111" stroke-width="0.55"/>
<circle cx="138" cy="764.8" r="1.95" fill="#f3c84e" stroke="#111" stroke-width="0.55"/>
<circle cx="143.1" cy="763.6" r="1.95" fill="#9c0012" stroke="#111" stroke-width="0.55"/>
<circle cx="139.7" cy="778.8" r="1.95" fill="#f3c84e" stroke="#111" stroke-width="0.55"/>
<circle cx="141.6" cy="780" r="1.95" fill="#9c0012" stroke="#111" stroke-width="0.55"/>
<circle cx="151" cy="781.2" r="1.95" fill="#9c0012" stroke="#111" stroke-width="0.55"/>
<circle cx="157.5" cy="782.4" r="1.95" fill="#1f33c8" stroke="#111" stroke-width="0.55"/>
<circle cx="131.5" cy="789.3" r="1.95" fill="#f3c84e" stroke="#111" stroke-width="0.55"/>
<circle cx="160.8" cy="789.6" r="1.95" fill="#1f33c8" stroke="#111" stroke-width="0.55"/>
<circle cx="149.5" cy="790.8" r="1.95" fill="#9c0012" stroke="#111" stroke-width="0.55"/>
<circle cx="159.1" cy="793.7" r="1.95" fill="#1f33c8" stroke="#111" stroke-width="0.55"/>
<circle cx="129.8" cy="794.1" r="1.95" fill="#f3c84e" stroke="#111" stroke-width="0.55"/>
<circle cx="134.9" cy="796.1" r="1.95" fill="#f3c84e" stroke="#111" stroke-width="0.55"/>
<circle cx="144.5" cy="799.7" r="1.95" fill="#9c0012" stroke="#111" stroke-width="0.55"/>
<circle cx="154.3" cy="805.2" r="1.95" fill="#1f33c8" stroke="#111" stroke-width="0.55"/>
<circle cx="133.2" cy="806.9" r="1.95" fill="#f3c84e" stroke="#111" stroke-width="0.55"/>
<circle cx="156" cy="811.4" r="1.95" fill="#1f33c8" stroke="#111" stroke-width="0.55"/>
<circle cx="147.9" cy="816" r="1.95" fill="#9c0012" stroke="#111" stroke-width="0.55"/>
<circle cx="152.7" cy="821.5" r="1.95" fill="#1f33c8" stroke="#111" stroke-width="0.55"/>
<circle cx="146.2" cy="825.1" r="1.95" fill="#9c0012" stroke="#111" stroke-width="0.55"/>
<circle cx="136.3" cy="857.3" r="1.95" fill="#f3c84e" stroke="#111" stroke-width="0.55"/>
<circle cx="178.8" cy="725" r="1.95" fill="#f3c84e" stroke="#111" stroke-width="0.55"/>
<circle cx="194.4" cy="725.9" r="1.95" fill="#9c0012" stroke="#111" stroke-width="0.55"/>
<circle cx="182.9" cy="746.6" r="1.95" fill="#f3c84e" stroke="#111" stroke-width="0.55"/>
<circle cx="188.7" cy="756.9" r="1.95" fill="#9c0012" stroke="#111" stroke-width="0.55"/>
<circle cx="203.6" cy="755.7" r="1.95" fill="#1f33c8" stroke="#111" stroke-width="0.55"/>
<circle cx="186.8" cy="774.2" r="1.95" fill="#9c0012" stroke="#111" stroke-width="0.55"/>
<circle cx="196.1" cy="783.1" r="1.95" fill="#9c0012" stroke="#111" stroke-width="0.55"/>
<circle cx="192" cy="792" r="1.95" fill="#9c0012" stroke="#111" stroke-width="0.55"/>
<circle cx="198" cy="791.5" r="1.95" fill="#9c0012" stroke="#111" stroke-width="0.55"/>
<circle cx="190.4" cy="794.4" r="1.95" fill="#9c0012" stroke="#111" stroke-width="0.55"/>
<circle cx="200.2" cy="804.5" r="1.95" fill="#1f33c8" stroke="#111" stroke-width="0.55"/>
<circle cx="201.9" cy="807.6" r="1.95" fill="#1f33c8" stroke="#111" stroke-width="0.55"/>
<circle cx="177.2" cy="808.1" r="1.95" fill="#f3c84e" stroke="#111" stroke-width="0.55"/>
<circle cx="175.2" cy="819.4" r="1.95" fill="#f3c84e" stroke="#111" stroke-width="0.55"/>
<circle cx="173.3" cy="841.2" r="1.95" fill="#f3c84e" stroke="#111" stroke-width="0.55"/>
<circle cx="181" cy="892.8" r="1.95" fill="#f3c84e" stroke="#111" stroke-width="0.55"/>
<circle cx="184.8" cy="916.9" r="1.95" fill="#f3c84e" stroke="#111" stroke-width="0.55"/>
<circle cx="246.8" cy="720.4" r="1.95" fill="#1f33c8" stroke="#111" stroke-width="0.55"/>
<circle cx="232.9" cy="749.2" r="1.95" fill="#9c0012" stroke="#111" stroke-width="0.55"/>
<circle cx="216.8" cy="756.4" r="1.95" fill="#f3c84e" stroke="#111" stroke-width="0.55"/>
<circle cx="228.5" cy="755.2" r="1.95" fill="#f3c84e" stroke="#111" stroke-width="0.55"/>
<circle cx="225.9" cy="765.6" r="1.95" fill="#f3c84e" stroke="#111" stroke-width="0.55"/>
<circle cx="235.3" cy="773.2" r="1.95" fill="#9c0012" stroke="#111" stroke-width="0.55"/>
<circle cx="218.9" cy="782.1" r="1.95" fill="#f3c84e" stroke="#111" stroke-width="0.55"/>
<circle cx="230.5" cy="783.1" r="1.95" fill="#9c0012" stroke="#111" stroke-width="0.55"/>
<circle cx="237.7" cy="785.7" r="1.95" fill="#9c0012" stroke="#111" stroke-width="0.55"/>
<circle cx="239.8" cy="794.9" r="1.95" fill="#9c0012" stroke="#111" stroke-width="0.55"/>
<circle cx="244.4" cy="800.4" r="1.95" fill="#1f33c8" stroke="#111" stroke-width="0.55"/>
<circle cx="220.9" cy="812.2" r="1.95" fill="#f3c84e" stroke="#111" stroke-width="0.55"/>
<circle cx="223.7" cy="814.8" r="1.95" fill="#f3c84e" stroke="#111" stroke-width="0.55"/>
<circle cx="242.2" cy="838.3" r="1.95" fill="#9c0012" stroke="#111" stroke-width="0.55"/>
<path d="M58.1 693H100.9" stroke="#000" stroke-width="1.6"/>
<path d="M79.4 685.7L79.4 690.9M77.3 686.77L81.5 689.83M81.5 686.77L77.3 689.83" stroke="#111" stroke-width="1.2" stroke-linecap="round"/>
<path d="M101.1 683.6H143.9" stroke="#000" stroke-width="1.6"/>
<path d="M117.3 676.3L117.3 681.5M115.2 677.37L119.4 680.43M119.4 677.37L115.2 680.43M124.4 676.3L124.4 681.5M122.3 677.37L126.5 680.43M126.5 677.37L122.3 680.43M131.5 676.3L131.5 681.5M129.4 677.37L133.6 680.43M133.6 677.37L129.4 680.43" stroke="#111" stroke-width="1.2" stroke-linecap="round"/>
<path d="M101.1 674H186.8" stroke="#000" stroke-width="1.6"/>
<path d="M142.7 666.7L142.7 671.9M140.6 667.77L144.8 670.83M144.8 667.77L140.6 670.83M149.8 666.7L149.8 671.9M147.7 667.77L151.9 670.83M151.9 667.77L147.7 670.83M156.9 666.7L156.9 671.9M154.8 667.77L159 670.83M159 667.77L154.8 670.83" stroke="#111" stroke-width="1.2" stroke-linecap="round"/>
<path d="M101.1 663.9H230.6" stroke="#000" stroke-width="1.6"/>
<path d="M164.8 656.6L164.8 661.8M162.7 657.67L166.9 660.73M166.9 657.67L162.7 660.73M171.9 656.6L171.9 661.8M169.8 657.67L174 660.73M174 657.67L169.8 660.73M179 656.6L179 661.8M176.9 657.67L181.1 660.73M181.1 657.67L176.9 660.73" stroke="#111" stroke-width="1.2" stroke-linecap="round"/>
<text x="290.8" y="657.5" style="font-size:9.6px;fill:#111">Polarity</text>
<path d="M290.9 707.7V930.3H518.6" fill="none" stroke="#333" stroke-width="1.05"/>
<path d="M288.7 902.3H290.9" stroke="#333" stroke-width="1"/>
<text x="286.9" y="905.35" text-anchor="end" style="font-size:8.5px;fill:#111">8.3</text>
<path d="M288.7 856.5H290.9" stroke="#333" stroke-width="1"/>
<text x="286.9" y="859.55" text-anchor="end" style="font-size:8.5px;fill:#111">8.4</text>
<path d="M288.7 810.4H290.9" stroke="#333" stroke-width="1"/>
<text x="286.9" y="813.45" text-anchor="end" style="font-size:8.5px;fill:#111">8.5</text>
<path d="M288.7 764.3H290.9" stroke="#333" stroke-width="1"/>
<text x="286.9" y="767.35" text-anchor="end" style="font-size:8.5px;fill:#111">8.6</text>
<path d="M288.7 718H290.9" stroke="#333" stroke-width="1"/>
<text x="286.9" y="721.05" text-anchor="end" style="font-size:8.5px;fill:#111">8.7</text>
<path d="M317.2 930.3V932.5" stroke="#333" stroke-width="1"/>
<text x="317.2" y="940.6" text-anchor="middle" style="font-size:8.6px;fill:#111">NBC</text>
<path d="M361.6 930.3V932.5" stroke="#333" stroke-width="1"/>
<text x="361.6" y="940.6" text-anchor="middle" style="font-size:8.6px;fill:#111">IgM+</text>
<text x="361.6" y="950.1" text-anchor="middle" style="font-size:8.6px;fill:#111">cMBC</text>
<path d="M405.8 930.3V932.5" stroke="#333" stroke-width="1"/>
<text x="405.8" y="940.6" text-anchor="middle" style="font-size:8.6px;fill:#111">IgG+</text>
<text x="405.8" y="950.1" text-anchor="middle" style="font-size:8.6px;fill:#111">cMBC</text>
<path d="M450 930.3V932.5" stroke="#333" stroke-width="1"/>
<text x="450" y="940.6" text-anchor="middle" style="font-size:8.6px;fill:#111">IgM+</text>
<text x="450" y="950.1" text-anchor="middle" style="font-size:8.6px;fill:#111">atMBC</text>
<path d="M494 930.3V932.5" stroke="#333" stroke-width="1"/>
<text x="494" y="940.6" text-anchor="middle" style="font-size:8.6px;fill:#111">IgG+</text>
<text x="494" y="950.1" text-anchor="middle" style="font-size:8.6px;fill:#111">atMBC</text>
<text x="270.3" y="819" text-anchor="middle" transform="rotate(-90 270.3 819)" style="font-size:8.1px;fill:#111">Average Polarity</text>
<path d="M317.2 832.5V839.7M317.2 851.4V856" stroke="#444" stroke-width="0.9"/>
<rect x="300.4" y="839.7" width="33.6" height="11.7" fill="none" stroke="#444" stroke-width="0.9"/>
<path d="M300.4 845.4H334" stroke="#333" stroke-width="1.7"/>
<path d="M361.6 774V778.2M361.6 802.2V827.7" stroke="#444" stroke-width="0.9"/>
<rect x="344.8" y="778.2" width="33.6" height="24" fill="none" stroke="#444" stroke-width="0.9"/>
<path d="M344.8 785H378.4" stroke="#333" stroke-width="1.7"/>
<path d="M405.8 764.9V788.4M405.8 816.5V842.2" stroke="#444" stroke-width="0.9"/>
<rect x="389.1" y="788.4" width="33.4" height="28.1" fill="none" stroke="#444" stroke-width="0.9"/>
<path d="M389.1 802.3H422.5" stroke="#333" stroke-width="1.7"/>
<path d="M450 826.1V843.4M450 877.5V895.8" stroke="#444" stroke-width="0.9"/>
<rect x="433.3" y="843.4" width="33.4" height="34.1" fill="none" stroke="#444" stroke-width="0.9"/>
<path d="M433.3 864.1H466.7" stroke="#333" stroke-width="1.7"/>
<path d="M493.95 746.1V791.8M493.95 835V894.6" stroke="#444" stroke-width="0.9"/>
<rect x="477.5" y="791.8" width="32.9" height="43.2" fill="none" stroke="#444" stroke-width="0.9"/>
<path d="M477.5 811.9H510.4" stroke="#333" stroke-width="1.7"/>
<circle cx="334" cy="832" r="1.95" fill="#1f33c8" stroke="#111" stroke-width="0.55"/>
<circle cx="308.3" cy="835.6" r="1.95" fill="#f3c84e" stroke="#111" stroke-width="0.55"/>
<circle cx="331.3" cy="836.8" r="1.95" fill="#1f33c8" stroke="#111" stroke-width="0.55"/>
<circle cx="316" cy="839.7" r="1.95" fill="#9c0012" stroke="#111" stroke-width="0.55"/>
<circle cx="303.2" cy="843" r="1.95" fill="#f3c84e" stroke="#111" stroke-width="0.55"/>
<circle cx="323.6" cy="842.1" r="1.95" fill="#1f33c8" stroke="#111" stroke-width="0.55"/>
<circle cx="326.3" cy="845.4" r="1.95" fill="#1f33c8" stroke="#111" stroke-width="0.55"/>
<circle cx="318.4" cy="848.8" r="1.95" fill="#9c0012" stroke="#111" stroke-width="0.55"/>
<circle cx="321.2" cy="850.7" r="1.95" fill="#9c0012" stroke="#111" stroke-width="0.55"/>
<circle cx="313.6" cy="851.2" r="1.95" fill="#9c0012" stroke="#111" stroke-width="0.55"/>
<circle cx="305.9" cy="855" r="1.95" fill="#f3c84e" stroke="#111" stroke-width="0.55"/>
<circle cx="310.9" cy="856.5" r="1.95" fill="#9c0012" stroke="#111" stroke-width="0.55"/>
<circle cx="328.7" cy="871.3" r="1.95" fill="#1f33c8" stroke="#111" stroke-width="0.55"/>
<circle cx="347.2" cy="772" r="1.95" fill="#f3c84e" stroke="#111" stroke-width="0.55"/>
<circle cx="355.3" cy="773.7" r="1.95" fill="#f3c84e" stroke="#111" stroke-width="0.55"/>
<circle cx="362" cy="773.7" r="1.95" fill="#9c0012" stroke="#111" stroke-width="0.55"/>
<circle cx="376.9" cy="774.2" r="1.95" fill="#1f33c8" stroke="#111" stroke-width="0.55"/>
<circle cx="350.3" cy="778.5" r="1.95" fill="#f3c84e" stroke="#111" stroke-width="0.55"/>
<circle cx="363.7" cy="777.3" r="1.95" fill="#9c0012" stroke="#111" stroke-width="0.55"/>
<circle cx="365.4" cy="779.9" r="1.95" fill="#9c0012" stroke="#111" stroke-width="0.55"/>
<circle cx="370.7" cy="780.4" r="1.95" fill="#1f33c8" stroke="#111" stroke-width="0.55"/>
<circle cx="372.4" cy="781.6" r="1.95" fill="#1f33c8" stroke="#111" stroke-width="0.55"/>
<circle cx="353.9" cy="784.5" r="1.95" fill="#f3c84e" stroke="#111" stroke-width="0.55"/>
<circle cx="367.3" cy="785.4" r="1.95" fill="#9c0012" stroke="#111" stroke-width="0.55"/>
<circle cx="348.8" cy="794.6" r="1.95" fill="#f3c84e" stroke="#111" stroke-width="0.55"/>
<circle cx="373.8" cy="793.6" r="1.95" fill="#1f33c8" stroke="#111" stroke-width="0.55"/>
<circle cx="375.2" cy="801.3" r="1.95" fill="#1f33c8" stroke="#111" stroke-width="0.55"/>
<circle cx="360.4" cy="802.5" r="1.95" fill="#9c0012" stroke="#111" stroke-width="0.55"/>
<circle cx="368.8" cy="802.2" r="1.95" fill="#9c0012" stroke="#111" stroke-width="0.55"/>
<circle cx="358.7" cy="813.5" r="1.95" fill="#9c0012" stroke="#111" stroke-width="0.55"/>
<circle cx="352.2" cy="823.4" r="1.95" fill="#f3c84e" stroke="#111" stroke-width="0.55"/>
<circle cx="357" cy="828.2" r="1.95" fill="#f3c84e" stroke="#111" stroke-width="0.55"/>
<circle cx="378.8" cy="826.2" r="1.95" fill="#1f33c8" stroke="#111" stroke-width="0.55"/>
<circle cx="407.8" cy="764.9" r="1.95" fill="#9c0012" stroke="#111" stroke-width="0.55"/>
<circle cx="394.6" cy="780" r="1.95" fill="#f3c84e" stroke="#111" stroke-width="0.55"/>
<circle cx="406.1" cy="781.7" r="1.95" fill="#9c0012" stroke="#111" stroke-width="0.55"/>
<circle cx="409.5" cy="780.5" r="1.95" fill="#9c0012" stroke="#111" stroke-width="0.55"/>
<circle cx="414.5" cy="787" r="1.95" fill="#1f33c8" stroke="#111" stroke-width="0.55"/>
<circle cx="417.9" cy="788.9" r="1.95" fill="#1f33c8" stroke="#111" stroke-width="0.55"/>
<circle cx="416" cy="793.4" r="1.95" fill="#1f33c8" stroke="#111" stroke-width="0.55"/>
<circle cx="392.9" cy="800.2" r="1.95" fill="#f3c84e" stroke="#111" stroke-width="0.55"/>
<circle cx="401.1" cy="798.5" r="1.95" fill="#f3c84e" stroke="#111" stroke-width="0.55"/>
<circle cx="421" cy="798.7" r="1.95" fill="#1f33c8" stroke="#111" stroke-width="0.55"/>
<circle cx="411.2" cy="804.3" r="1.95" fill="#9c0012" stroke="#111" stroke-width="0.55"/>
<circle cx="399.7" cy="805" r="1.95" fill="#f3c84e" stroke="#111" stroke-width="0.55"/>
<circle cx="391.2" cy="808.3" r="1.95" fill="#f3c84e" stroke="#111" stroke-width="0.55"/>
<circle cx="412.9" cy="811.9" r="1.95" fill="#9c0012" stroke="#111" stroke-width="0.55"/>
<circle cx="396" cy="814.8" r="1.95" fill="#f3c84e" stroke="#111" stroke-width="0.55"/>
<circle cx="403.7" cy="820.8" r="1.95" fill="#9c0012" stroke="#111" stroke-width="0.55"/>
<circle cx="402.5" cy="822.3" r="1.95" fill="#9c0012" stroke="#111" stroke-width="0.55"/>
<circle cx="419.6" cy="822.3" r="1.95" fill="#1f33c8" stroke="#111" stroke-width="0.55"/>
<circle cx="422.7" cy="842.4" r="1.95" fill="#1f33c8" stroke="#111" stroke-width="0.55"/>
<circle cx="398" cy="874.2" r="1.95" fill="#f3c84e" stroke="#111" stroke-width="0.55"/>
<circle cx="447.5" cy="737.7" r="1.95" fill="#f3c84e" stroke="#111" stroke-width="0.55"/>
<circle cx="443.4" cy="774" r="1.95" fill="#f3c84e" stroke="#111" stroke-width="0.55"/>
<circle cx="435.7" cy="825.6" r="1.95" fill="#f3c84e" stroke="#111" stroke-width="0.55"/>
<circle cx="453.5" cy="830.9" r="1.95" fill="#9c0012" stroke="#111" stroke-width="0.55"/>
<circle cx="437.6" cy="843.4" r="1.95" fill="#f3c84e" stroke="#111" stroke-width="0.55"/>
<circle cx="461.1" cy="848.9" r="1.95" fill="#9c0012" stroke="#111" stroke-width="0.55"/>
<circle cx="464.8" cy="859.3" r="1.95" fill="#1f33c8" stroke="#111" stroke-width="0.55"/>
<circle cx="439.8" cy="860.5" r="1.95" fill="#f3c84e" stroke="#111" stroke-width="0.55"/>
<circle cx="457.1" cy="865.3" r="1.95" fill="#9c0012" stroke="#111" stroke-width="0.55"/>
<circle cx="459" cy="863.8" r="1.95" fill="#9c0012" stroke="#111" stroke-width="0.55"/>
<circle cx="463.1" cy="870.5" r="1.95" fill="#1f33c8" stroke="#111" stroke-width="0.55"/>
<circle cx="455.1" cy="872.5" r="1.95" fill="#9c0012" stroke="#111" stroke-width="0.55"/>
<circle cx="445.5" cy="877.3" r="1.95" fill="#f3c84e" stroke="#111" stroke-width="0.55"/>
<circle cx="441.4" cy="885.2" r="1.95" fill="#f3c84e" stroke="#111" stroke-width="0.55"/>
<circle cx="449.4" cy="897" r="1.95" fill="#9c0012" stroke="#111" stroke-width="0.55"/>
<circle cx="451.3" cy="896.5" r="1.95" fill="#9c0012" stroke="#111" stroke-width="0.55"/>
<circle cx="466.9" cy="898.7" r="1.95" fill="#1f33c8" stroke="#111" stroke-width="0.55"/>
<circle cx="501.5" cy="720.9" r="1.95" fill="#9c0012" stroke="#111" stroke-width="0.55"/>
<circle cx="489.5" cy="745.6" r="1.95" fill="#f3c84e" stroke="#111" stroke-width="0.55"/>
<circle cx="484.9" cy="785" r="1.95" fill="#f3c84e" stroke="#111" stroke-width="0.55"/>
<circle cx="499.1" cy="790.3" r="1.95" fill="#9c0012" stroke="#111" stroke-width="0.55"/>
<circle cx="487.3" cy="797" r="1.95" fill="#f3c84e" stroke="#111" stroke-width="0.55"/>
<circle cx="480.4" cy="806.2" r="1.95" fill="#f3c84e" stroke="#111" stroke-width="0.55"/>
<circle cx="506.5" cy="811" r="1.95" fill="#9c0012" stroke="#111" stroke-width="0.55"/>
<circle cx="508.5" cy="813.4" r="1.95" fill="#1f33c8" stroke="#111" stroke-width="0.55"/>
<circle cx="482.5" cy="815.5" r="1.95" fill="#f3c84e" stroke="#111" stroke-width="0.55"/>
<circle cx="492.1" cy="819.9" r="1.95" fill="#f3c84e" stroke="#111" stroke-width="0.55"/>
<circle cx="503.7" cy="840" r="1.95" fill="#9c0012" stroke="#111" stroke-width="0.55"/>
<circle cx="496.7" cy="847.7" r="1.95" fill="#9c0012" stroke="#111" stroke-width="0.55"/>
<circle cx="510.9" cy="895" r="1.95" fill="#1f33c8" stroke="#111" stroke-width="0.55"/>
<circle cx="494.5" cy="917.2" r="1.95" fill="#9c0012" stroke="#111" stroke-width="0.55"/>
<path d="M317.6 697.6H361" stroke="#000" stroke-width="1.6"/>
<path d="M336.25 690.3L336.25 695.5M334.15 691.37L338.35 694.43M338.35 691.37L334.15 694.43M343.35 690.3L343.35 695.5M341.25 691.37L345.45 694.43M345.45 691.37L341.25 694.43" stroke="#111" stroke-width="1.2" stroke-linecap="round"/>
<path d="M317.6 687.5H405.9" stroke="#000" stroke-width="1.6"/>
<path d="M361.3 680.2L361.3 685.4M359.2 681.27L363.4 684.33M363.4 681.27L359.2 684.33" stroke="#111" stroke-width="1.2" stroke-linecap="round"/>
<path d="M317.6 678.7H493.8" stroke="#000" stroke-width="1.6"/>
<path d="M405.9 671.4L405.9 676.6M403.8 672.47L408 675.53M408 672.47L403.8 675.53" stroke="#111" stroke-width="1.2" stroke-linecap="round"/>
<path d="M361.8 668.9H449.3" stroke="#000" stroke-width="1.6"/>
<path d="M402.45 661.6L402.45 666.8M400.35 662.67L404.55 665.73M404.55 662.67L400.35 665.73M409.55 661.6L409.55 666.8M407.45 662.67L411.65 665.73M411.65 662.67L407.45 665.73" stroke="#111" stroke-width="1.2" stroke-linecap="round"/>
<path d="M406.2 658.7H494" stroke="#000" stroke-width="1.6"/>
<path d="M446.35 651.4L446.35 656.6M444.25 652.47L448.45 655.53M448.45 652.47L444.25 655.53M453.45 651.4L453.45 656.6M451.35 652.47L455.55 655.53M455.55 652.47L451.35 655.53" stroke="#111" stroke-width="1.2" stroke-linecap="round"/>
<text x="559.1" y="657.5" style="font-size:9.6px;fill:#111">Charge</text>
<path d="M561.8 707.7V930.3H786.3" fill="none" stroke="#333" stroke-width="1.05"/>
<path d="M559.6 918.1H561.8" stroke="#333" stroke-width="1"/>
<text x="557.8" y="921.15" text-anchor="end" style="font-size:8.5px;fill:#111">&#8722;0.8</text>
<path d="M559.6 874.2H561.8" stroke="#333" stroke-width="1"/>
<text x="557.8" y="877.25" text-anchor="end" style="font-size:8.5px;fill:#111">&#8722;0.6</text>
<path d="M559.6 829.7H561.8" stroke="#333" stroke-width="1"/>
<text x="557.8" y="832.75" text-anchor="end" style="font-size:8.5px;fill:#111">&#8722;0.4</text>
<path d="M559.6 785.3H561.8" stroke="#333" stroke-width="1"/>
<text x="557.8" y="788.35" text-anchor="end" style="font-size:8.5px;fill:#111">&#8722;0.2</text>
<path d="M559.6 740.8H561.8" stroke="#333" stroke-width="1"/>
<text x="557.8" y="743.85" text-anchor="end" style="font-size:8.5px;fill:#111">0.0</text>
<path d="M587.7 930.3V932.5" stroke="#333" stroke-width="1"/>
<text x="587.7" y="940.6" text-anchor="middle" style="font-size:8.6px;fill:#111">NBC</text>
<path d="M631 930.3V932.5" stroke="#333" stroke-width="1"/>
<text x="631" y="940.6" text-anchor="middle" style="font-size:8.6px;fill:#111">IgM+</text>
<text x="631" y="950.1" text-anchor="middle" style="font-size:8.6px;fill:#111">cMBC</text>
<path d="M673.9 930.3V932.5" stroke="#333" stroke-width="1"/>
<text x="673.9" y="940.6" text-anchor="middle" style="font-size:8.6px;fill:#111">IgG+</text>
<text x="673.9" y="950.1" text-anchor="middle" style="font-size:8.6px;fill:#111">cMBC</text>
<path d="M717.2 930.3V932.5" stroke="#333" stroke-width="1"/>
<text x="717.2" y="940.6" text-anchor="middle" style="font-size:8.6px;fill:#111">IgM+</text>
<text x="717.2" y="950.1" text-anchor="middle" style="font-size:8.6px;fill:#111">atMBC</text>
<path d="M760.5 930.3V932.5" stroke="#333" stroke-width="1"/>
<text x="760.5" y="940.6" text-anchor="middle" style="font-size:8.6px;fill:#111">IgG+</text>
<text x="760.5" y="950.1" text-anchor="middle" style="font-size:8.6px;fill:#111">atMBC</text>
<text x="535.3" y="819" text-anchor="middle" transform="rotate(-90 535.3 819)" style="font-size:8.1px;fill:#111">Normalized Net Charge</text>
<path d="M587.65 813.1V844.8M587.65 873V885.7" stroke="#444" stroke-width="0.9"/>
<rect x="571.3" y="844.8" width="32.7" height="28.2" fill="none" stroke="#444" stroke-width="0.9"/>
<path d="M571.3 863.6H604" stroke="#333" stroke-width="1.7"/>
<path d="M631.05 758.1V795.1M631.05 822.7V843.2" stroke="#444" stroke-width="0.9"/>
<rect x="614.6" y="795.1" width="32.9" height="27.6" fill="none" stroke="#444" stroke-width="0.9"/>
<path d="M614.6 809.1H647.5" stroke="#333" stroke-width="1.7"/>
<path d="M673.85 789.3V806.3M673.85 821.7V838" stroke="#444" stroke-width="0.9"/>
<rect x="657.4" y="806.3" width="32.9" height="15.4" fill="none" stroke="#444" stroke-width="0.9"/>
<path d="M657.4 811.4H690.3" stroke="#333" stroke-width="1.7"/>
<path d="M717.2 757.6V792.2M717.2 848.8V904.7" stroke="#444" stroke-width="0.9"/>
<rect x="700.9" y="792.2" width="32.6" height="56.6" fill="none" stroke="#444" stroke-width="0.9"/>
<path d="M700.9 829.1H733.5" stroke="#333" stroke-width="1.7"/>
<path d="M760.5 721.1V786.2M760.5 837.5V851.2" stroke="#444" stroke-width="0.9"/>
<rect x="744.3" y="786.2" width="32.4" height="51.3" fill="none" stroke="#444" stroke-width="0.9"/>
<path d="M744.3 803.2H776.7" stroke="#333" stroke-width="1.7"/>
<circle cx="591.5" cy="812.7" r="1.95" fill="#9c0012" stroke="#111" stroke-width="0.55"/>
<circle cx="576.6" cy="819.6" r="1.95" fill="#f3c84e" stroke="#111" stroke-width="0.55"/>
<circle cx="599.2" cy="836.2" r="1.95" fill="#1f33c8" stroke="#111" stroke-width="0.55"/>
<circle cx="604" cy="844.8" r="1.95" fill="#1f33c8" stroke="#111" stroke-width="0.55"/>
<circle cx="589.1" cy="858.1" r="1.95" fill="#9c0012" stroke="#111" stroke-width="0.55"/>
<circle cx="584.1" cy="859.5" r="1.95" fill="#9c0012" stroke="#111" stroke-width="0.55"/>
<circle cx="586.7" cy="863.6" r="1.95" fill="#9c0012" stroke="#111" stroke-width="0.55"/>
<circle cx="593.9" cy="865.7" r="1.95" fill="#1f33c8" stroke="#111" stroke-width="0.55"/>
<circle cx="579" cy="866.9" r="1.95" fill="#f3c84e" stroke="#111" stroke-width="0.55"/>
<circle cx="596.8" cy="873" r="1.95" fill="#1f33c8" stroke="#111" stroke-width="0.55"/>
<circle cx="601.6" cy="875.4" r="1.95" fill="#1f33c8" stroke="#111" stroke-width="0.55"/>
<circle cx="574" cy="877.8" r="1.95" fill="#f3c84e" stroke="#111" stroke-width="0.55"/>
<circle cx="581.7" cy="885.7" r="1.95" fill="#9c0012" stroke="#111" stroke-width="0.55"/>
<circle cx="634.8" cy="733.1" r="1.95" fill="#9c0012" stroke="#111" stroke-width="0.55"/>
<circle cx="626.6" cy="744" r="1.95" fill="#f3c84e" stroke="#111" stroke-width="0.55"/>
<circle cx="618.4" cy="760.1" r="1.95" fill="#f3c84e" stroke="#111" stroke-width="0.55"/>
<circle cx="621.8" cy="758.1" r="1.95" fill="#f3c84e" stroke="#111" stroke-width="0.55"/>
<circle cx="628.3" cy="793.7" r="1.95" fill="#9c0012" stroke="#111" stroke-width="0.55"/>
<circle cx="647.5" cy="795.4" r="1.95" fill="#1f33c8" stroke="#111" stroke-width="0.55"/>
<circle cx="620.1" cy="799.2" r="1.95" fill="#f3c84e" stroke="#111" stroke-width="0.55"/>
<circle cx="625.1" cy="804" r="1.95" fill="#f3c84e" stroke="#111" stroke-width="0.55"/>
<circle cx="623.7" cy="808.1" r="1.95" fill="#f3c84e" stroke="#111" stroke-width="0.55"/>
<circle cx="630" cy="808.8" r="1.95" fill="#9c0012" stroke="#111" stroke-width="0.55"/>
<circle cx="639.3" cy="809.1" r="1.95" fill="#1f33c8" stroke="#111" stroke-width="0.55"/>
<circle cx="644.4" cy="811.2" r="1.95" fill="#1f33c8" stroke="#111" stroke-width="0.55"/>
<circle cx="637.9" cy="813.1" r="1.95" fill="#9c0012" stroke="#111" stroke-width="0.55"/>
<circle cx="636.2" cy="817.9" r="1.95" fill="#9c0012" stroke="#111" stroke-width="0.55"/>
<circle cx="642.9" cy="822.5" r="1.95" fill="#1f33c8" stroke="#111" stroke-width="0.55"/>
<circle cx="641.2" cy="824.4" r="1.95" fill="#1f33c8" stroke="#111" stroke-width="0.55"/>
<circle cx="616.7" cy="826.6" r="1.95" fill="#f3c84e" stroke="#111" stroke-width="0.55"/>
<circle cx="646" cy="830" r="1.95" fill="#1f33c8" stroke="#111" stroke-width="0.55"/>
<circle cx="633.1" cy="834.3" r="1.95" fill="#9c0012" stroke="#111" stroke-width="0.55"/>
<circle cx="631.4" cy="842.4" r="1.95" fill="#9c0012" stroke="#111" stroke-width="0.55"/>
<circle cx="689.1" cy="788.8" r="1.95" fill="#1f33c8" stroke="#111" stroke-width="0.55"/>
<circle cx="678.1" cy="797" r="1.95" fill="#9c0012" stroke="#111" stroke-width="0.55"/>
<circle cx="664.9" cy="801.5" r="1.95" fill="#f3c84e" stroke="#111" stroke-width="0.55"/>
<circle cx="668" cy="799.8" r="1.95" fill="#f3c84e" stroke="#111" stroke-width="0.55"/>
<circle cx="670.2" cy="802.7" r="1.95" fill="#f3c84e" stroke="#111" stroke-width="0.55"/>
<circle cx="659.8" cy="807" r="1.95" fill="#f3c84e" stroke="#111" stroke-width="0.55"/>
<circle cx="682.6" cy="808" r="1.95" fill="#1f33c8" stroke="#111" stroke-width="0.55"/>
<circle cx="671.4" cy="809.7" r="1.95" fill="#9c0012" stroke="#111" stroke-width="0.55"/>
<circle cx="676.2" cy="809.9" r="1.95" fill="#9c0012" stroke="#111" stroke-width="0.55"/>
<circle cx="673" cy="813.3" r="1.95" fill="#9c0012" stroke="#111" stroke-width="0.55"/>
<circle cx="687.7" cy="816.4" r="1.95" fill="#1f33c8" stroke="#111" stroke-width="0.55"/>
<circle cx="690.8" cy="819.3" r="1.95" fill="#1f33c8" stroke="#111" stroke-width="0.55"/>
<circle cx="663.2" cy="818.5" r="1.95" fill="#f3c84e" stroke="#111" stroke-width="0.55"/>
<circle cx="661.5" cy="820.7" r="1.95" fill="#f3c84e" stroke="#111" stroke-width="0.55"/>
<circle cx="684.3" cy="823.8" r="1.95" fill="#1f33c8" stroke="#111" stroke-width="0.55"/>
<circle cx="674.7" cy="838.2" r="1.95" fill="#9c0012" stroke="#111" stroke-width="0.55"/>
<circle cx="686" cy="851.7" r="1.95" fill="#1f33c8" stroke="#111" stroke-width="0.55"/>
<circle cx="679.5" cy="856" r="1.95" fill="#9c0012" stroke="#111" stroke-width="0.55"/>
<circle cx="666.6" cy="916.7" r="1.95" fill="#f3c84e" stroke="#111" stroke-width="0.55"/>
<circle cx="681.4" cy="807.3" r="1.95" fill="#9c0012" stroke="#111" stroke-width="0.55"/>
<circle cx="711.2" cy="757.1" r="1.95" fill="#f3c84e" stroke="#111" stroke-width="0.55"/>
<circle cx="709" cy="769.1" r="1.95" fill="#f3c84e" stroke="#111" stroke-width="0.55"/>
<circle cx="705.4" cy="786.4" r="1.95" fill="#f3c84e" stroke="#111" stroke-width="0.55"/>
<circle cx="730.2" cy="787.8" r="1.95" fill="#1f33c8" stroke="#111" stroke-width="0.55"/>
<circle cx="714.8" cy="791.9" r="1.95" fill="#f3c84e" stroke="#111" stroke-width="0.55"/>
<circle cx="733.8" cy="810.4" r="1.95" fill="#1f33c8" stroke="#111" stroke-width="0.55"/>
<circle cx="707.1" cy="810.9" r="1.95" fill="#f3c84e" stroke="#111" stroke-width="0.55"/>
<circle cx="726.3" cy="819" r="1.95" fill="#9c0012" stroke="#111" stroke-width="0.55"/>
<circle cx="712.9" cy="829.1" r="1.95" fill="#f3c84e" stroke="#111" stroke-width="0.55"/>
<circle cx="720.6" cy="831" r="1.95" fill="#9c0012" stroke="#111" stroke-width="0.55"/>
<circle cx="718.6" cy="838" r="1.95" fill="#9c0012" stroke="#111" stroke-width="0.55"/>
<circle cx="732.1" cy="836.8" r="1.95" fill="#1f33c8" stroke="#111" stroke-width="0.55"/>
<circle cx="703.5" cy="850.7" r="1.95" fill="#f3c84e" stroke="#111" stroke-width="0.55"/>
<circle cx="722.5" cy="849.3" r="1.95" fill="#9c0012" stroke="#111" stroke-width="0.55"/>
<circle cx="728" cy="848.8" r="1.95" fill="#9c0012" stroke="#111" stroke-width="0.55"/>
<circle cx="716.7" cy="853.8" r="1.95" fill="#9c0012" stroke="#111" stroke-width="0.55"/>
<circle cx="724.6" cy="904.7" r="1.95" fill="#9c0012" stroke="#111" stroke-width="0.55"/>
<circle cx="753.7" cy="720.9" r="1.95" fill="#f3c84e" stroke="#111" stroke-width="0.55"/>
<circle cx="758.5" cy="773" r="1.95" fill="#f3c84e" stroke="#111" stroke-width="0.55"/>
<circle cx="755.8" cy="785.4" r="1.95" fill="#f3c84e" stroke="#111" stroke-width="0.55"/>
<circle cx="772.2" cy="784.2" r="1.95" fill="#9c0012" stroke="#111" stroke-width="0.55"/>
<circle cx="746.7" cy="788.3" r="1.95" fill="#f3c84e" stroke="#111" stroke-width="0.55"/>
<circle cx="760.6" cy="792.6" r="1.95" fill="#9c0012" stroke="#111" stroke-width="0.55"/>
<circle cx="762.8" cy="801.5" r="1.95" fill="#9c0012" stroke="#111" stroke-width="0.55"/>
<circle cx="749.1" cy="804.9" r="1.95" fill="#f3c84e" stroke="#111" stroke-width="0.55"/>
<circle cx="765.4" cy="814.7" r="1.95" fill="#9c0012" stroke="#111" stroke-width="0.55"/>
<circle cx="767.6" cy="831.3" r="1.95" fill="#9c0012" stroke="#111" stroke-width="0.55"/>
<circle cx="774.6" cy="839.2" r="1.95" fill="#1f33c8" stroke="#111" stroke-width="0.55"/>
<circle cx="751.5" cy="849.5" r="1.95" fill="#f3c84e" stroke="#111" stroke-width="0.55"/>
<circle cx="769.8" cy="851.2" r="1.95" fill="#9c0012" stroke="#111" stroke-width="0.55"/>
<circle cx="777" cy="848.1" r="1.95" fill="#1f33c8" stroke="#111" stroke-width="0.55"/>
<path d="M588.1 690.7H630.6" stroke="#000" stroke-width="1.6"/>
<path d="M602.8 683.4L602.8 688.6M600.7 684.47L604.9 687.53M604.9 684.47L600.7 687.53M609.9 683.4L609.9 688.6M607.8 684.47L612 687.53M612 684.47L607.8 687.53M617 683.4L617 688.6M614.9 684.47L619.1 687.53M619.1 684.47L614.9 687.53" stroke="#111" stroke-width="1.2" stroke-linecap="round"/>
<path d="M588.1 681.8H673.9" stroke="#000" stroke-width="1.6"/>
<path d="M630.3 674.5L630.3 679.7M628.2 675.57L632.4 678.63M632.4 675.57L628.2 678.63" stroke="#111" stroke-width="1.2" stroke-linecap="round"/>
<path d="M588.1 672.9H717.1" stroke="#000" stroke-width="1.6"/>
<path d="M652.3 665.6L652.3 670.8M650.2 666.67L654.4 669.73M654.4 666.67L650.2 669.73" stroke="#111" stroke-width="1.2" stroke-linecap="round"/>
<path d="M588.1 663.6H760.3" stroke="#000" stroke-width="1.6"/>
<path d="M670.35 656.3L670.35 661.5M668.25 657.37L672.45 660.43M672.45 657.37L668.25 660.43M677.45 656.3L677.45 661.5M675.35 657.37L679.55 660.43M679.55 657.37L675.35 660.43" stroke="#111" stroke-width="1.2" stroke-linecap="round"/>
<text x="280.6" y="996.1" style="font-size:10.5px;fill:#111">Donor</text>
<circle cx="338.9" cy="995" r="3.8" fill="#9c0012" stroke="#111" stroke-width="0.8"/>
<text x="354.6" y="998.5" style="font-size:10.2px;fill:#111">US&#8722;B</text>
<circle cx="404.6" cy="995" r="3.8" fill="#1f33c8" stroke="#111" stroke-width="0.8"/>
<text x="420.2" y="998.5" style="font-size:10.2px;fill:#111">US&#8722;W</text>
<circle cx="473.8" cy="995" r="3.8" fill="#f3c84e" stroke="#111" stroke-width="0.8"/>
<text x="488.5" y="998.5" style="font-size:10.2px;fill:#111">UG</text>
</svg></body></html>
